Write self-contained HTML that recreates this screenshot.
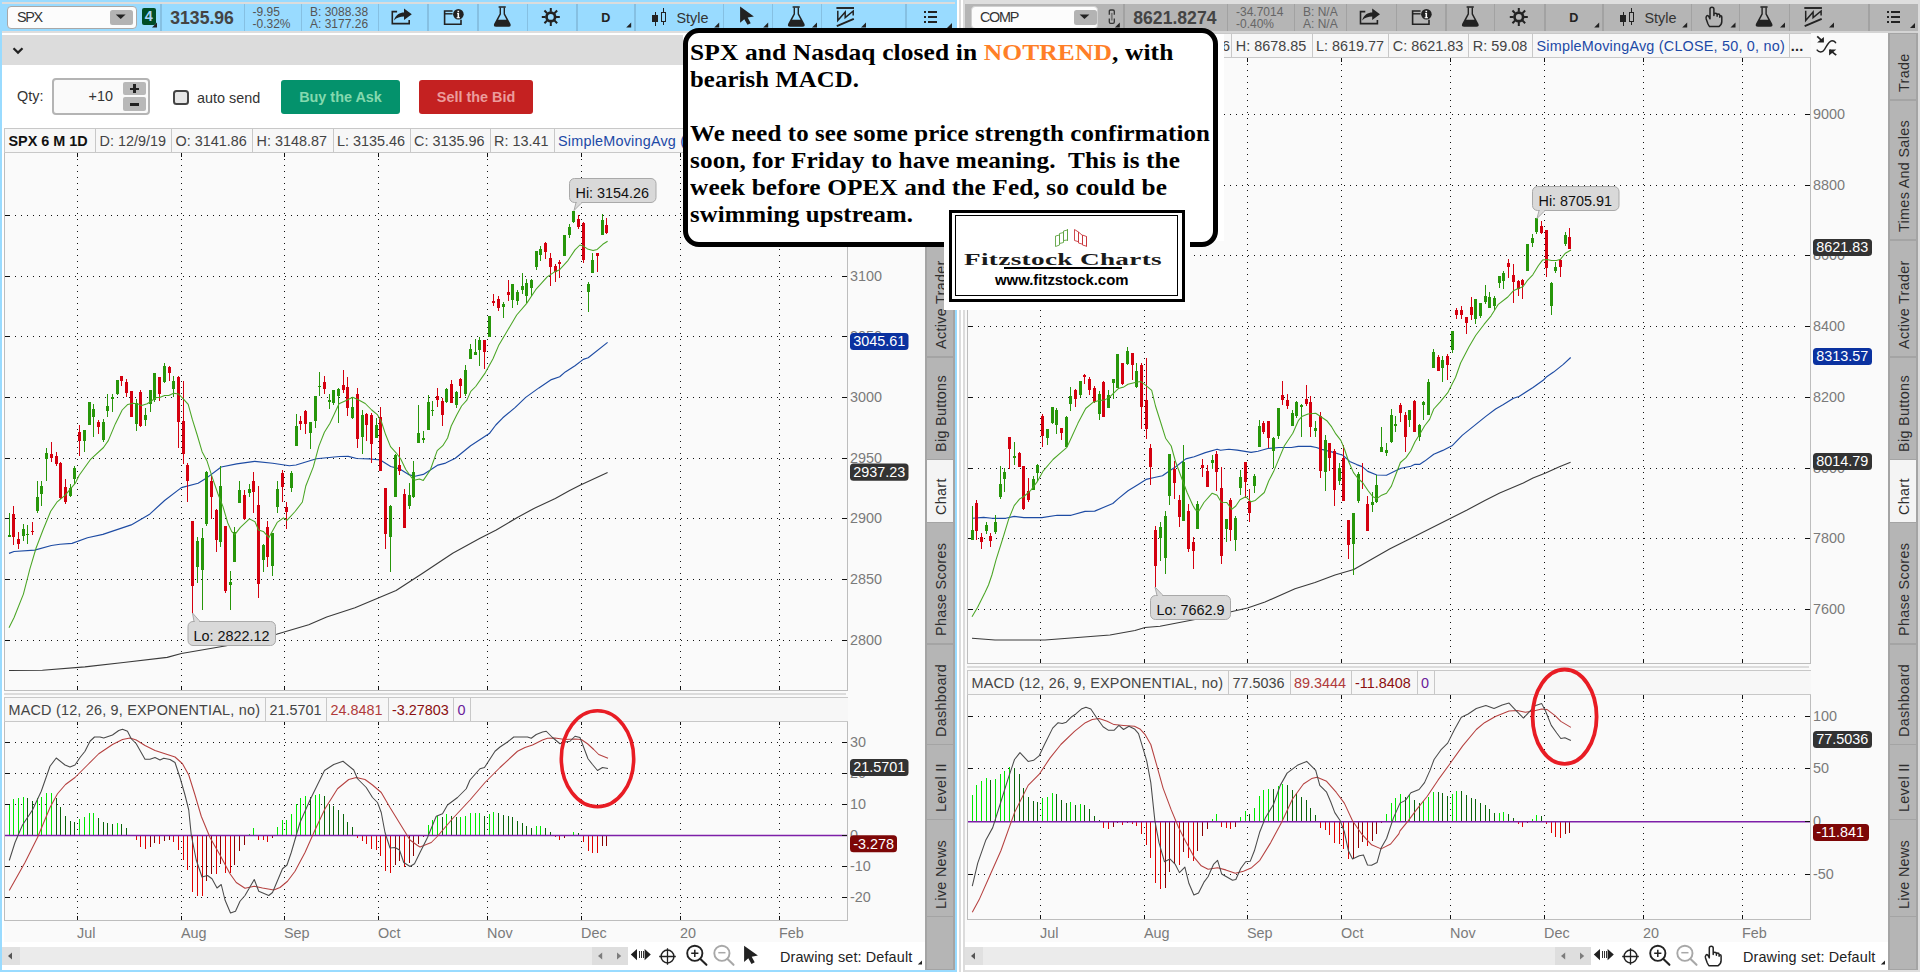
<!DOCTYPE html><html><head><meta charset="utf-8"><title>Charts</title><style>
html,body{margin:0;padding:0;background:#fff;}
body{width:1920px;height:972px;overflow:hidden;position:relative;font-family:"Liberation Sans", sans-serif;}
div{box-sizing:border-box;}
</style></head><body>
<div style="position:absolute;left:0px;top:0px;width:957px;height:972px;background:#99dbff;"></div>
<div style="position:absolute;left:2px;top:2px;width:953px;height:968px;background:#fff;"></div>
<div style="position:absolute;left:2px;top:2px;width:953px;height:2px;background:#dcdcdc;"></div>
<div style="position:absolute;left:2px;top:4px;width:953px;height:27px;background:#99dbff;"></div>
<div style="position:absolute;left:2px;top:31px;width:953px;height:2px;background:#dedede;"></div>
<div style="position:absolute;left:2px;top:35px;width:923px;height:30px;background:#dcdcdc;"></div>
<div style="position:absolute;left:4px;top:128px;width:921px;height:814px;background:#fafafa;"></div>
<div style="position:absolute;left:2px;top:947px;width:596px;height:18px;background:#ebebeb;"></div>
<div style="position:absolute;left:2px;top:947px;width:18px;height:18px;background:#e0e0e0;"></div>
<div style="position:absolute;left:592px;top:947px;width:36px;height:18px;background:#dedede;"></div>
<div style="position:absolute;left:957px;top:0px;width:963px;height:972px;background:#fff;"></div>
<div style="position:absolute;left:959px;top:0px;width:2px;height:972px;background:#dcdcdc;"></div>
<div style="position:absolute;left:963px;top:0px;width:2px;height:972px;background:#dcdcdc;"></div>
<div style="position:absolute;left:965px;top:0px;width:955px;height:4px;background:#dedede;"></div>
<div style="position:absolute;left:965px;top:4px;width:953px;height:27px;background:#b5b5b5;"></div>
<div style="position:absolute;left:965px;top:31px;width:953px;height:2px;background:#d4d4d4;"></div>
<div style="position:absolute;left:1918px;top:0px;width:2px;height:972px;background:#dcdcdc;"></div>
<div style="position:absolute;left:965px;top:970px;width:955px;height:2px;background:#dedede;"></div>
<div style="position:absolute;left:965px;top:33px;width:923px;height:909px;background:#fafafa;"></div>
<div style="position:absolute;left:965px;top:947px;width:596px;height:18px;background:#ebebeb;"></div>
<div style="position:absolute;left:965px;top:947px;width:18px;height:18px;background:#e0e0e0;"></div>
<div style="position:absolute;left:1555px;top:947px;width:36px;height:18px;background:#dedede;"></div>
<svg style="position:absolute;left:0;top:0" width="1920" height="972" viewBox="0 0 1920 972" font-family='"Liberation Sans", sans-serif' font-size="14.4"><path d="M4.5 152V690.5H847.5V152" stroke="#bdbdbd" stroke-width="1" fill="none" shape-rendering="crispEdges"/><path d="M4.5 721V920.5H847.5V721" stroke="#bdbdbd" stroke-width="1" fill="none" shape-rendering="crispEdges"/><path d="M967.5 57V663.5H1810.5V57" stroke="#bdbdbd" stroke-width="1" fill="none" shape-rendering="crispEdges"/><path d="M967.5 694V919.5H1810.5V694" stroke="#bdbdbd" stroke-width="1" fill="none" shape-rendering="crispEdges"/><path d="M15 215.5H834M15 276.5H834M15 336.5H834M15 397.5H834M15 458.5H834M15 518.5H834M15 579.5H834M15 640.5H834" stroke="#111" stroke-width="1" stroke-dasharray="1 5" fill="none" shape-rendering="crispEdges"/><path d="M77.5 159V685M181.5 159V685M284.5 159V685M378.5 159V685M487.5 159V685M581.5 159V685M680.5 159V685M779.5 159V685" stroke="#111" stroke-width="1" stroke-dasharray="1 5" fill="none" shape-rendering="crispEdges"/><path d="M5 215.5h5M842 215.5h5M5 276.5h5M842 276.5h5M5 336.5h5M842 336.5h5M5 397.5h5M842 397.5h5M5 458.5h5M842 458.5h5M5 518.5h5M842 518.5h5M5 579.5h5M842 579.5h5M5 640.5h5M842 640.5h5M77.5 153v4M77.5 686v4M181.5 153v4M181.5 686v4M284.5 153v4M284.5 686v4M378.5 153v4M378.5 686v4M487.5 153v4M487.5 686v4M581.5 153v4M581.5 686v4M680.5 153v4M680.5 686v4M779.5 153v4M779.5 686v4" stroke="#111" stroke-width="1" fill="none" shape-rendering="crispEdges"/><path d="M15 742.5H834M15 773.5H834M15 804.5H834M15 866.5H834M15 897.5H834" stroke="#111" stroke-width="1" stroke-dasharray="1 5" fill="none" shape-rendering="crispEdges"/><path d="M77.5 727V915M181.5 727V915M284.5 727V915M378.5 727V915M487.5 727V915M581.5 727V915M680.5 727V915M779.5 727V915" stroke="#111" stroke-width="1" stroke-dasharray="1 5" fill="none" shape-rendering="crispEdges"/><path d="M5 742.5h5M842 742.5h5M5 773.5h5M842 773.5h5M5 804.5h5M842 804.5h5M5 866.5h5M842 866.5h5M5 897.5h5M842 897.5h5M77.5 721v4M77.5 916v4M181.5 721v4M181.5 916v4M284.5 721v4M284.5 916v4M378.5 721v4M378.5 916v4M487.5 721v4M487.5 916v4M581.5 721v4M581.5 916v4M680.5 721v4M680.5 916v4M779.5 721v4M779.5 916v4" stroke="#111" stroke-width="1" fill="none" shape-rendering="crispEdges"/><path d="M978 114.5H1797M978 185.5H1797M978 255.5H1797M978 326.5H1797M978 397.5H1797M978 468.5H1797M978 538.5H1797M978 609.5H1797" stroke="#111" stroke-width="1" stroke-dasharray="1 5" fill="none" shape-rendering="crispEdges"/><path d="M1040.5 64V658M1144.5 64V658M1247.5 64V658M1341.5 64V658M1450.5 64V658M1544.5 64V658M1643.5 64V658M1742.5 64V658" stroke="#111" stroke-width="1" stroke-dasharray="1 5" fill="none" shape-rendering="crispEdges"/><path d="M968 114.5h5M1805 114.5h5M968 185.5h5M1805 185.5h5M968 255.5h5M1805 255.5h5M968 326.5h5M1805 326.5h5M968 397.5h5M1805 397.5h5M968 468.5h5M1805 468.5h5M968 538.5h5M1805 538.5h5M968 609.5h5M1805 609.5h5M1040.5 58v4M1040.5 659v4M1144.5 58v4M1144.5 659v4M1247.5 58v4M1247.5 659v4M1341.5 58v4M1341.5 659v4M1450.5 58v4M1450.5 659v4M1544.5 58v4M1544.5 659v4M1643.5 58v4M1643.5 659v4M1742.5 58v4M1742.5 659v4" stroke="#111" stroke-width="1" fill="none" shape-rendering="crispEdges"/><path d="M978 716.5H1797M978 768.5H1797M978 874.5H1797" stroke="#111" stroke-width="1" stroke-dasharray="1 5" fill="none" shape-rendering="crispEdges"/><path d="M1040.5 701V914M1144.5 701V914M1247.5 701V914M1341.5 701V914M1450.5 701V914M1544.5 701V914M1643.5 701V914M1742.5 701V914" stroke="#111" stroke-width="1" stroke-dasharray="1 5" fill="none" shape-rendering="crispEdges"/><path d="M968 716.5h5M1805 716.5h5M968 768.5h5M1805 768.5h5M968 874.5h5M1805 874.5h5M1040.5 695v4M1040.5 915v4M1144.5 695v4M1144.5 915v4M1247.5 695v4M1247.5 915v4M1341.5 695v4M1341.5 915v4M1450.5 695v4M1450.5 915v4M1544.5 695v4M1544.5 915v4M1643.5 695v4M1643.5 915v4M1742.5 695v4M1742.5 915v4" stroke="#111" stroke-width="1" fill="none" shape-rendering="crispEdges"/><polyline points="9,670.5 42.4,670.2 84.9,666.9 123.5,662.5 167.2,657.4 181.4,653.5 226.4,645.8 276.5,634.2 308.7,624.7 326.7,617 355,607.7 396.1,590.5 421.9,573.8 452.7,553.2 480,538.3 496.25,530 517.8,517.2 534.4,508.2 555.3,498.5 569.2,490.8 580,485.3 607.6,472.5" fill="none" stroke="#3a3a3a" stroke-width="1.12" stroke-linejoin="round" /><polyline points="9,553.4 14,551.5 34.7,550.1 51.4,545.5 60,544.2 72,543.4 87.5,537.7 102.9,534.4 131.2,524.9 149.2,514.6 164.6,500.5 181.4,487.6 198.1,483.2 205.8,478.6 221.2,467 236.7,463.9 254.7,461.4 272.7,463.2 289.4,465.7 296,465 316.4,458.8 339.5,456.5 348.3,456.4 356.7,458.5 369.2,458.9 380.3,460 390.7,466.5 399,468.6 409.4,474.9 415,476.25 423.3,474.4 430.3,470 437.9,465.1 445.6,463.1 455.3,458.2 470.6,445.7 489.3,433.6 495.8,425 502.8,417.8 515.3,407.4 525.7,397.4 538.9,387.9 551.4,379.6 559.7,376.8 565.3,371.9 575,365.7 583.3,359.4 588.2,357.8 607.6,342.4" fill="none" stroke="#1d4ba3" stroke-width="1.15" stroke-linejoin="round" /><polyline points="972,638.25 995,640 1045,640 1077.5,637.5 1110,635 1135,630.5 1145,627.5 1160,626.25 1195,619.5 1230,612 1247.5,608 1265,602 1295,588.75 1315,582.5 1335,575 1353.75,569.5 1372.5,558.75 1390,548.75 1407.5,540 1467.1,510 1484.4,500.7 1499.7,493 1523.3,483 1533,478 1545.6,472.9 1559.4,466.7 1570.6,462.2" fill="none" stroke="#3a3a3a" stroke-width="1.12" stroke-linejoin="round" /><polyline points="972.5,518.3 983.6,517.4 991.9,518.3 1005.8,518.3 1014.2,516.4 1023.9,517.6 1041.9,517.6 1057.2,515.3 1071.1,515.3 1085,511.4 1094.7,511.1 1112.8,503.5 1118.3,498.6 1128,490.7 1137.8,484.7 1146.1,479.4 1154.4,477.5 1162.5,475.7 1167.8,472 1176.1,466.5 1185.8,458.9 1194.2,456.8 1205.3,452.6 1217.1,449.2 1220.6,450.3 1228.9,449.2 1237.2,450.1 1251.1,452.4 1258,451.25 1267.8,448.5 1278.9,447.5 1291.4,447.5 1298.3,446.4 1310.8,446.4 1316.4,447.5 1321.9,449.4 1334.4,452.6 1342.8,455.2 1349.7,461.4 1356.7,464.6 1362.2,466.6 1367.8,471.4 1376.8,475 1386.5,475.3 1395.6,470.8 1401.1,468.3 1410.8,466.25 1415,464.3 1419.9,464.3 1424.7,461.1 1433.75,454.2 1442.8,450.4 1452.5,445.4 1462.2,435.4 1485.8,416.4 1495.6,409 1503,404.8 1513.5,398.2 1519,396.5 1533,387.5 1543.5,380 1546.7,376.7 1553.6,372.1 1563.3,364.4 1570.7,357.5" fill="none" stroke="#1d4ba3" stroke-width="1.15" stroke-linejoin="round" /><path d="M9 513h1v24h-1zM8 535h3v2h-3zM23 524h1v17h-1zM22 529h3v7h-3zM27 525h1v19h-1zM26 534h3v1h-3zM37 481h1v32h-1zM36 497h3v14h-3zM41 481h1v25h-1zM40 486h3v8h-3zM46 448h1v33h-1zM45 453h3v6h-3zM70 484h1v13h-1zM69 488h3v8h-3zM74 466h1v18h-1zM73 468h3v11h-3zM84 430h1v22h-1zM83 430h3v11h-3zM89 402h1v23h-1zM88 402h3v23h-3zM93 404h1v33h-1zM92 409h3v8h-3zM103 419h1v23h-1zM102 422h3v18h-3zM107 394h1v23h-1zM106 406h3v5h-3zM112 394h1v18h-1zM111 397h3v2h-3zM117 380h1v15h-1zM116 380h3v14h-3zM136 399h1v32h-1zM135 403h3v21h-3zM145 408h1v18h-1zM144 415h3v5h-3zM150 390h1v22h-1zM149 390h3v14h-3zM154 373h1v29h-1zM153 373h3v27h-3zM164 363h1v20h-1zM163 366h3v16h-3zM173 376h1v21h-1zM172 381h3v8h-3zM197 537h1v46h-1zM196 541h3v26h-3zM202 528h1v82h-1zM201 538h3v32h-3zM206 471h1v55h-1zM205 472h3v52h-3zM220 466h1v81h-1zM219 486h3v56h-3zM230 571h1v39h-1zM229 582h3v3h-3zM234 527h1v35h-1zM233 532h3v30h-3zM239 481h1v22h-1zM238 490h3v13h-3zM249 484h1v13h-1zM248 489h3v4h-3zM263 544h1v28h-1zM262 545h3v15h-3zM272 533h1v43h-1zM271 533h3v33h-3zM277 481h1v32h-1zM276 489h3v18h-3zM291 471h1v21h-1zM290 473h3v15h-3zM296 414h1v32h-1zM295 426h3v20h-3zM310 422h1v27h-1zM309 422h3v11h-3zM315 396h1v32h-1zM314 396h3v25h-3zM319 372h1v24h-1zM318 386h3v1h-3zM329 394h1v15h-1zM328 400h3v2h-3zM333 390h1v15h-1zM332 390h3v13h-3zM338 388h1v35h-1zM337 389h3v7h-3zM352 398h1v21h-1zM351 407h3v11h-3zM362 410h1v44h-1zM361 415h3v22h-3zM376 418h1v20h-1zM375 425h3v13h-3zM390 505h1v67h-1zM389 506h3v31h-3zM395 454h1v43h-1zM394 455h3v42h-3zM409 483h1v26h-1zM408 495h3v11h-3zM413 461h1v37h-1zM412 472h3v25h-3zM418 405h1v38h-1zM417 433h3v10h-3zM423 431h1v12h-1zM422 438h3v2h-3zM428 395h1v35h-1zM427 402h3v28h-3zM432 401h1v15h-1zM431 410h3v1h-3zM446 388h1v15h-1zM445 389h3v13h-3zM456 391h1v17h-1zM455 392h3v13h-3zM465 365h1v31h-1zM464 370h3v24h-3zM470 344h1v15h-1zM469 349h3v10h-3zM475 339h1v16h-1zM474 352h3v3h-3zM479 337h1v29h-1zM478 340h3v10h-3zM489 316h1v21h-1zM488 316h3v21h-3zM503 302h1v16h-1zM502 304h3v3h-3zM512 284h1v24h-1zM511 284h3v16h-3zM517 290h1v15h-1zM516 292h3v9h-3zM522 273h1v21h-1zM521 286h3v4h-3zM526 279h1v24h-1zM525 283h3v13h-3zM531 279h1v17h-1zM530 280h3v8h-3zM536 251h1v19h-1zM535 251h3v16h-3zM540 246h1v15h-1zM539 249h3v6h-3zM564 235h1v21h-1zM563 235h3v21h-3zM569 224h1v14h-1zM568 227h3v8h-3zM573 211h1v12h-1zM572 211h3v11h-3zM588 282h1v30h-1zM587 284h3v8h-3zM592 253h1v20h-1zM591 260h3v13h-3zM602 214h1v21h-1zM601 220h3v15h-3z" fill="#27960a" shape-rendering="crispEdges"/><path d="M13 506h1v39h-1zM12 514h3v23h-3zM18 532h1v17h-1zM17 539h3v5h-3zM32 522h1v13h-1zM31 531h3v1h-3zM51 442h1v20h-1zM50 454h3v4h-3zM56 452h1v14h-1zM55 456h3v8h-3zM60 462h1v37h-1zM59 463h3v35h-3zM65 479h1v25h-1zM64 487h3v15h-3zM79 425h1v31h-1zM78 432h3v9h-3zM98 420h1v14h-1zM97 422h3v5h-3zM121 376h1v10h-1zM120 376h3v5h-3zM126 379h1v18h-1zM125 382h3v11h-3zM131 391h1v26h-1zM130 391h3v26h-3zM140 390h1v37h-1zM139 392h3v34h-3zM159 377h1v24h-1zM158 377h3v17h-3zM169 366h1v15h-1zM168 367h3v6h-3zM178 376h1v72h-1zM177 377h3v45h-3zM183 381h1v83h-1zM182 421h3v33h-3zM187 463h1v39h-1zM186 465h3v16h-3zM192 521h1v93h-1zM191 521h3v65h-3zM211 476h1v43h-1zM210 481h3v16h-3zM216 509h1v43h-1zM215 510h3v30h-3zM225 526h1v67h-1zM224 526h3v65h-3zM244 490h1v30h-1zM243 495h3v24h-3zM253 472h1v41h-1zM252 481h3v11h-3zM258 486h1v112h-1zM257 505h3v79h-3zM267 521h1v46h-1zM266 527h3v30h-3zM282 470h1v32h-1zM281 473h3v14h-3zM286 502h1v27h-1zM285 507h3v5h-3zM300 416h1v14h-1zM299 421h3v3h-3zM305 410h1v24h-1zM304 411h3v13h-3zM324 376h1v18h-1zM323 382h3v7h-3zM343 370h1v23h-1zM342 385h3v5h-3zM347 377h1v39h-1zM346 387h3v21h-3zM357 388h1v60h-1zM356 394h3v45h-3zM366 413h1v28h-1zM365 414h3v11h-3zM371 413h1v50h-1zM370 415h3v29h-3zM380 407h1v64h-1zM379 417h3v54h-3zM385 488h1v61h-1zM384 488h3v46h-3zM399 447h1v28h-1zM398 465h3v6h-3zM404 489h1v39h-1zM403 494h3v34h-3zM437 388h1v19h-1zM436 396h3v4h-3zM442 398h1v28h-1zM441 401h3v14h-3zM451 380h1v23h-1zM450 384h3v19h-3zM460 378h1v20h-1zM459 379h3v7h-3zM484 340h1v29h-1zM483 340h3v12h-3zM493 294h1v12h-1zM492 301h3v2h-3zM498 296h1v15h-1zM497 299h3v9h-3zM508 280h1v21h-1zM507 292h3v3h-3zM545 242h1v17h-1zM544 243h3v9h-3zM550 253h1v33h-1zM549 258h3v9h-3zM555 264h1v18h-1zM554 266h3v6h-3zM559 260h1v18h-1zM558 262h3v2h-3zM578 215h1v14h-1zM577 219h3v8h-3zM583 222h1v41h-1zM582 223h3v37h-3zM597 253h1v19h-1zM596 253h3v3h-3zM606 218h1v16h-1zM605 225h3v8h-3z" fill="#d4000f" shape-rendering="crispEdges"/><path d="M972 506h1v34h-1zM971 530h3v10h-3zM986 522h1v12h-1zM985 525h3v6h-3zM995 515h1v19h-1zM994 522h3v10h-3zM1000 466h1v33h-1zM999 484h3v13h-3zM1004 468h1v24h-1zM1003 472h3v7h-3zM1014 442h1v23h-1zM1013 456h3v2h-3zM1033 476h1v14h-1zM1032 479h3v11h-3zM1037 464h1v17h-1zM1036 465h3v8h-3zM1047 429h1v16h-1zM1046 429h3v9h-3zM1052 407h1v17h-1zM1051 407h3v16h-3zM1056 408h1v26h-1zM1055 410h3v15h-3zM1066 416h1v31h-1zM1065 417h3v30h-3zM1070 387h1v24h-1zM1069 396h3v8h-3zM1080 381h1v16h-1zM1079 381h3v14h-3zM1099 391h1v29h-1zM1098 394h3v20h-3zM1108 390h1v18h-1zM1107 395h3v13h-3zM1113 379h1v20h-1zM1112 379h3v4h-3zM1117 354h1v34h-1zM1116 354h3v34h-3zM1127 347h1v18h-1zM1126 351h3v13h-3zM1136 363h1v25h-1zM1135 371h3v16h-3zM1160 522h1v39h-1zM1159 527h3v11h-3zM1165 511h1v63h-1zM1164 516h3v42h-3zM1169 454h1v51h-1zM1168 454h3v42h-3zM1183 445h1v76h-1zM1182 462h3v59h-3zM1197 501h1v28h-1zM1196 504h3v25h-3zM1212 455h1v14h-1zM1211 460h3v3h-3zM1226 519h1v23h-1zM1225 519h3v10h-3zM1235 516h1v35h-1zM1234 518h3v22h-3zM1240 470h1v25h-1zM1239 477h3v11h-3zM1254 474h1v19h-1zM1253 476h3v10h-3zM1259 420h1v27h-1zM1258 426h3v21h-3zM1273 437h1v31h-1zM1272 438h3v13h-3zM1278 408h1v31h-1zM1277 408h3v28h-3zM1292 410h1v16h-1zM1291 413h3v13h-3zM1296 401h1v17h-1zM1295 402h3v14h-3zM1301 404h1v33h-1zM1300 405h3v2h-3zM1315 421h1v16h-1zM1314 428h3v3h-3zM1325 435h1v56h-1zM1324 440h3v32h-3zM1339 463h1v22h-1zM1338 468h3v13h-3zM1353 513h1v62h-1zM1352 513h3v31h-3zM1358 472h1v31h-1zM1357 474h3v27h-3zM1372 492h1v20h-1zM1371 502h3v3h-3zM1376 475h1v28h-1zM1375 485h3v17h-3zM1381 427h1v25h-1zM1380 447h3v5h-3zM1386 443h1v13h-1zM1385 450h3v3h-3zM1391 409h1v34h-1zM1390 415h3v27h-3zM1395 416h1v16h-1zM1394 424h3v2h-3zM1409 410h1v17h-1zM1408 410h3v10h-3zM1419 424h1v17h-1zM1418 425h3v12h-3zM1423 401h1v19h-1zM1422 402h3v3h-3zM1428 379h1v36h-1zM1427 382h3v33h-3zM1433 349h1v19h-1zM1432 352h3v16h-3zM1442 356h1v26h-1zM1441 360h3v8h-3zM1452 331h1v22h-1zM1451 331h3v19h-3zM1475 299h1v25h-1zM1474 299h3v20h-3zM1480 303h1v15h-1zM1479 303h3v13h-3zM1485 285h1v19h-1zM1484 296h3v6h-3zM1489 292h1v16h-1zM1488 297h3v11h-3zM1494 296h1v14h-1zM1493 298h3v8h-3zM1499 276h1v12h-1zM1498 276h3v7h-3zM1503 271h1v18h-1zM1502 273h3v8h-3zM1527 244h1v27h-1zM1526 244h3v27h-3zM1532 234h1v13h-1zM1531 238h3v5h-3zM1536 218h1v16h-1zM1535 218h3v14h-3zM1551 282h1v33h-1zM1550 283h3v23h-3zM1555 262h1v11h-1zM1554 267h3v4h-3zM1565 232h1v14h-1zM1564 235h3v9h-3z" fill="#27960a" shape-rendering="crispEdges"/><path d="M976 500h1v40h-1zM975 503h3v28h-3zM981 533h1v16h-1zM980 537h3v5h-3zM990 533h1v14h-1zM989 536h3v5h-3zM1009 437h1v32h-1zM1008 437h3v12h-3zM1019 452h1v15h-1zM1018 453h3v14h-3zM1023 466h1v44h-1zM1022 466h3v43h-3zM1028 478h1v24h-1zM1027 491h3v9h-3zM1042 414h1v33h-1zM1041 416h3v20h-3zM1061 428h1v12h-1zM1060 428h3v5h-3zM1075 389h1v18h-1zM1074 390h3v9h-3zM1084 374h1v10h-1zM1083 375h3v2h-3zM1089 377h1v18h-1zM1088 379h3v11h-3zM1094 386h1v17h-1zM1093 388h3v14h-3zM1103 381h1v36h-1zM1102 382h3v35h-3zM1122 363h1v22h-1zM1121 363h3v21h-3zM1132 353h1v27h-1zM1131 353h3v12h-3zM1141 363h1v66h-1zM1140 365h3v42h-3zM1146 358h1v81h-1zM1145 400h3v29h-3zM1150 444h1v41h-1zM1149 448h3v19h-3zM1155 526h1v61h-1zM1154 530h3v36h-3zM1174 461h1v38h-1zM1173 469h3v14h-3zM1179 495h1v32h-1zM1178 500h3v17h-3zM1188 504h1v48h-1zM1187 511h3v38h-3zM1193 537h1v32h-1zM1192 542h3v9h-3zM1202 459h1v18h-1zM1201 465h3v3h-3zM1207 465h1v22h-1zM1206 471h3v16h-3zM1216 451h1v40h-1zM1215 454h3v18h-3zM1221 467h1v97h-1zM1220 488h3v68h-3zM1230 498h1v43h-1zM1229 500h3v30h-3zM1245 462h1v36h-1zM1244 462h3v20h-3zM1249 489h1v33h-1zM1248 501h3v12h-3zM1263 421h1v13h-1zM1262 423h3v9h-3zM1268 421h1v27h-1zM1267 421h3v17h-3zM1282 381h1v24h-1zM1281 395h3v5h-3zM1287 394h1v15h-1zM1286 400h3v6h-3zM1306 385h1v21h-1zM1305 399h3v5h-3zM1310 396h1v41h-1zM1309 402h3v25h-3zM1320 412h1v66h-1zM1319 416h3v55h-3zM1329 443h1v28h-1zM1328 443h3v15h-3zM1334 449h1v57h-1zM1333 451h3v39h-3zM1343 445h1v56h-1zM1342 458h3v43h-3zM1348 520h1v39h-1zM1347 520h3v25h-3zM1362 463h1v26h-1zM1367 496h1v35h-1zM1366 504h3v27h-3zM1400 403h1v19h-1zM1399 405h3v8h-3zM1405 412h1v40h-1zM1404 415h3v22h-3zM1414 400h1v32h-1zM1413 401h3v31h-3zM1438 355h1v16h-1zM1437 357h3v14h-3zM1447 354h1v26h-1zM1446 356h3v9h-3zM1456 308h1v11h-1zM1455 310h3v5h-3zM1461 306h1v13h-1zM1460 310h3v5h-3zM1466 317h1v17h-1zM1465 317h3v6h-3zM1471 297h1v23h-1zM1470 307h3v8h-3zM1508 259h1v19h-1zM1507 263h3v4h-3zM1513 264h1v39h-1zM1512 275h3v7h-3zM1518 280h1v16h-1zM1517 281h3v8h-3zM1522 279h1v20h-1zM1521 280h3v5h-3zM1541 221h1v13h-1zM1540 226h3v7h-3zM1546 230h1v47h-1zM1545 230h3v38h-3zM1560 259h1v18h-1zM1559 260h3v7h-3zM1569 228h1v21h-1zM1568 237h3v12h-3z" fill="#d4000f" shape-rendering="crispEdges"/><polyline points="9,627.8 14.1,617.5 23.4,594.1 29.9,568.9 36.1,548 43,530 50.7,511.3 56.9,502.2 65.3,495.2 75.3,483.2 79.2,475.3 90.3,459.7 103.5,447.5 108.3,440.6 115.3,423.9 122.2,410 127.8,404.4 133.3,403.3 138.9,404.2 141.7,405.6 147.2,403.75 151.4,401 156.3,397.5 159.7,397.5 164.6,395.4 168.75,395.4 173.6,393.3 178.5,394 183.3,398.9 188.2,404.4 192.4,419.7 197.2,435 202.1,451.7 206.9,460.7 212.5,478.1 218,494 222.9,506.4 227.8,523 231.6,531.4 234.8,534.6 240.4,527.4 249.4,518.9 255,521.7 258.5,530 263.3,531.4 268.9,537.6 277.2,522.4 283.5,517.8 286.9,520.3 295.3,511.25 302.4,502 305.7,486.3 313.3,466.9 318.9,446.1 324.4,432.2 330,423.2 334.2,414.2 339,403.75 346.7,400.3 352.7,397.3 359.2,400.3 365.2,403.5 371.7,410 377.3,414.6 381.5,422 385.7,434.8 390.5,446.6 396.1,452.8 400.6,458.7 405.8,469.5 411.7,477.8 415.2,480.1 419.5,479.1 423.3,480.4 430.3,470 437.2,450.6 442.8,445.7 447.6,438 451.2,426 456.7,415.1 461.6,406 466.9,400.1 470.8,391.4 475.7,386.5 485.4,372.6 493,358.75 498.6,345.6 505.6,333.75 516.7,315 526.7,303.4 535.7,289.7 547.2,276.9 554.2,272.1 559.7,269.7 568.1,260.3 575,249.9 579.9,245 583.3,246.1 587.5,248.9 593.1,250.6 597.2,249.4 602.8,244.3 607.6,241.25" fill="none" stroke="#4aa524" stroke-width="1.05" stroke-linejoin="round" /><polyline points="972,616.75 977.5,607.5 985,592.5 988.5,585 991.9,575 996.1,559.7 1003.1,537.5 1008.6,519.4 1014.2,505.6 1019.7,498.9 1023.9,496.5 1030.8,490.3 1037.1,481.9 1043.3,470.8 1053,459.5 1061.4,452.2 1066.9,447.4 1071.1,438.3 1078,423.1 1085.7,408.5 1093.3,402.2 1098.9,400.6 1104.4,400.1 1109.3,397.4 1118.3,388.6 1123.9,386.9 1128,384.2 1135,382.5 1140.6,381.4 1146.1,385.6 1151.7,390.4 1155.5,406 1160.4,421.5 1165.6,438.2 1171.2,446 1175.5,461.5 1181.7,478.2 1187.2,492.8 1192.8,505.3 1195.6,510.1 1199,510.8 1203.9,502.5 1212.2,493.2 1217.1,495.3 1221.25,502.2 1226.8,502.5 1231.7,509.4 1235.8,506 1240,499.7 1245.6,496.7 1251.1,501.8 1255.3,500.4 1264.3,492.5 1268.7,481 1273.6,471.6 1278.9,458.9 1284.4,445.7 1292.8,433.2 1298.3,420.7 1301.8,416.5 1308,414 1315.7,413.3 1320.6,416.5 1326.8,420.7 1331.7,426.9 1335.8,433.9 1341,440.6 1344.6,449.5 1348.8,462 1353.5,472.6 1358,478.5 1362.6,482.5 1367.8,490.2 1372.6,496.5 1376.8,498.6 1381,495.6 1386.5,493.3 1391.4,486.1 1395.6,475 1400.4,462.5 1406,457.6 1410.8,450.7 1415,441.7 1419.9,434 1424.7,425.7 1429.6,419.4 1433.75,409 1440,402.1 1447.8,392.7 1452.5,383.3 1455.5,377.5 1460.6,363 1468.9,347.1 1475.8,335.3 1484.2,324.2 1491.1,315.8 1498,304.7 1507.8,297 1513.3,290.8 1518.9,288.2 1523,286.8 1527.2,280.7 1532.8,274.8 1538.3,265.7 1542.5,260.1 1546.7,259.4 1551.5,260.4 1556.4,260.4 1560.6,259.2 1565.4,253.2 1571,250" fill="none" stroke="#4aa524" stroke-width="1.05" stroke-linejoin="round" /><path d="M9 805h1v30h-1zM13 799h1v36h-1zM18 798h1v37h-1zM23 797h1v38h-1zM37 798h1v37h-1zM41 797h1v38h-1zM46 793h1v42h-1zM51 793h1v42h-1zM79 819h1v16h-1zM84 817h1v18h-1zM89 813h1v22h-1zM93 813h1v22h-1zM117 823h1v12h-1zM249 834h1v1h-1zM253 828h1v7h-1zM277 827h1v8h-1zM282 820h1v15h-1zM286 820h1v15h-1zM291 814h1v21h-1zM296 804h1v31h-1zM300 798h1v37h-1zM305 796h1v39h-1zM315 795h1v40h-1zM319 794h1v41h-1zM428 825h1v10h-1zM432 820h1v15h-1zM437 816h1v19h-1zM446 814h1v21h-1zM460 817h1v18h-1zM465 816h1v19h-1zM470 813h1v22h-1zM475 813h1v22h-1zM479 813h1v22h-1zM489 814h1v21h-1zM493 812h1v23h-1zM536 826h1v9h-1zM540 826h1v9h-1zM573 832h1v3h-1z" fill="#00e800" shape-rendering="crispEdges"/><path d="M27 798h1v37h-1zM32 801h1v34h-1zM56 798h1v37h-1zM60 807h1v28h-1zM65 816h1v19h-1zM70 821h1v14h-1zM74 822h1v13h-1zM98 818h1v17h-1zM103 822h1v13h-1zM107 823h1v12h-1zM112 824h1v11h-1zM121 824h1v11h-1zM126 828h1v7h-1zM310 797h1v38h-1zM324 796h1v39h-1zM329 804h1v31h-1zM333 806h1v29h-1zM338 810h1v25h-1zM343 814h1v21h-1zM347 822h1v13h-1zM352 827h1v8h-1zM442 817h1v18h-1zM451 816h1v19h-1zM456 817h1v18h-1zM484 816h1v19h-1zM498 813h1v22h-1zM503 815h1v20h-1zM508 816h1v19h-1zM512 817h1v18h-1zM517 821h1v14h-1zM522 823h1v12h-1zM526 826h1v9h-1zM531 828h1v7h-1zM545 828h1v7h-1zM550 832h1v3h-1zM578 833h1v2h-1z" fill="#0a640a" shape-rendering="crispEdges"/><path d="M136 836h1v4h-1zM140 836h1v11h-1zM145 836h1v13h-1zM159 836h1v8h-1zM173 836h1v6h-1zM178 836h1v14h-1zM183 836h1v24h-1zM187 836h1v34h-1zM192 836h1v56h-1zM197 836h1v60h-1zM202 836h1v60h-1zM216 836h1v38h-1zM225 836h1v37h-1zM230 836h1v37h-1zM258 836h1v4h-1zM263 836h1v4h-1zM267 836h1v6h-1zM357 836h1v2h-1zM362 836h1v5h-1zM366 836h1v8h-1zM371 836h1v13h-1zM376 836h1v14h-1zM380 836h1v20h-1zM385 836h1v35h-1zM390 836h1v37h-1zM404 836h1v31h-1zM555 836h1v1h-1zM559 836h1v4h-1zM583 836h1v6h-1zM588 836h1v15h-1zM592 836h1v17h-1zM597 836h1v17h-1z" fill="#e00000" shape-rendering="crispEdges"/><path d="M150 836h1v11h-1zM154 836h1v7h-1zM164 836h1v5h-1zM169 836h1v4h-1zM206 836h1v45h-1zM211 836h1v38h-1zM220 836h1v28h-1zM234 836h1v29h-1zM239 836h1v15h-1zM244 836h1v9h-1zM272 836h1v2h-1zM395 836h1v29h-1zM399 836h1v25h-1zM409 836h1v27h-1zM413 836h1v20h-1zM418 836h1v8h-1zM423 836h1v1h-1zM564 836h1v2h-1zM602 836h1v10h-1zM606 836h1v10h-1z" fill="#8c0000" shape-rendering="crispEdges"/><path d="M972 795h1v26h-1zM976 785h1v36h-1zM981 781h1v40h-1zM986 778h1v43h-1zM995 779h1v42h-1zM1000 774h1v47h-1zM1004 771h1v50h-1zM1009 767h1v54h-1zM1042 798h1v23h-1zM1047 797h1v24h-1zM1052 793h1v28h-1zM1070 802h1v19h-1zM1080 804h1v17h-1zM1212 819h1v2h-1zM1216 814h1v7h-1zM1240 817h1v4h-1zM1245 811h1v10h-1zM1254 808h1v13h-1zM1259 796h1v25h-1zM1263 790h1v31h-1zM1268 789h1v32h-1zM1278 786h1v35h-1zM1282 784h1v37h-1zM1386 814h1v7h-1zM1391 803h1v18h-1zM1395 798h1v23h-1zM1400 794h1v27h-1zM1409 795h1v26h-1zM1423 801h1v20h-1zM1428 797h1v24h-1zM1433 792h1v29h-1zM1452 794h1v27h-1zM1456 791h1v30h-1zM1499 813h1v8h-1zM1503 812h1v9h-1zM1532 819h1v2h-1zM1536 815h1v6h-1z" fill="#00e800" shape-rendering="crispEdges"/><path d="M990 780h1v41h-1zM1014 768h1v53h-1zM1019 774h1v47h-1zM1023 788h1v33h-1zM1028 797h1v24h-1zM1033 801h1v20h-1zM1037 802h1v19h-1zM1056 794h1v27h-1zM1061 800h1v21h-1zM1066 803h1v18h-1zM1075 805h1v16h-1zM1084 805h1v16h-1zM1089 809h1v12h-1zM1094 816h1v5h-1zM1099 820h1v1h-1zM1249 814h1v7h-1zM1273 789h1v32h-1zM1287 785h1v36h-1zM1292 790h1v31h-1zM1296 793h1v28h-1zM1301 797h1v24h-1zM1306 800h1v21h-1zM1310 808h1v13h-1zM1315 815h1v6h-1zM1405 797h1v24h-1zM1414 800h1v21h-1zM1419 803h1v18h-1zM1438 792h1v29h-1zM1442 793h1v28h-1zM1447 796h1v25h-1zM1461 791h1v30h-1zM1466 795h1v26h-1zM1471 798h1v23h-1zM1475 799h1v22h-1zM1480 803h1v18h-1zM1485 805h1v16h-1zM1489 809h1v12h-1zM1494 813h1v8h-1zM1508 814h1v7h-1zM1513 818h1v3h-1zM1541 816h1v5h-1z" fill="#0a640a" shape-rendering="crispEdges"/><path d="M1103 822h1v6h-1zM1108 822h1v7h-1zM1122 822h1v3h-1zM1132 822h1v2h-1zM1136 822h1v4h-1zM1141 822h1v12h-1zM1146 822h1v23h-1zM1150 822h1v36h-1zM1155 822h1v61h-1zM1160 822h1v67h-1zM1179 822h1v43h-1zM1188 822h1v36h-1zM1193 822h1v39h-1zM1221 822h1v5h-1zM1226 822h1v6h-1zM1230 822h1v7h-1zM1320 822h1v6h-1zM1325 822h1v8h-1zM1329 822h1v13h-1zM1334 822h1v21h-1zM1339 822h1v22h-1zM1343 822h1v27h-1zM1348 822h1v37h-1zM1367 822h1v24h-1zM1518 822h1v2h-1zM1522 822h1v5h-1zM1546 822h1v2h-1zM1551 822h1v11h-1zM1555 822h1v15h-1zM1560 822h1v16h-1z" fill="#e00000" shape-rendering="crispEdges"/><path d="M1113 822h1v5h-1zM1117 822h1v1h-1zM1127 822h1v1h-1zM1165 822h1v66h-1zM1169 822h1v50h-1zM1174 822h1v42h-1zM1183 822h1v30h-1zM1197 822h1v29h-1zM1202 822h1v14h-1zM1207 822h1v7h-1zM1235 822h1v5h-1zM1353 822h1v36h-1zM1358 822h1v26h-1zM1362 822h1v20h-1zM1372 822h1v19h-1zM1376 822h1v12h-1zM1381 822h1v1h-1zM1527 822h1v1h-1zM1565 822h1v12h-1zM1569 822h1v11h-1z" fill="#8c0000" shape-rendering="crispEdges"/><path d="M5 835.5H847" stroke="#7d1fa8" stroke-width="1.4" fill="none"/><path d="M968 821.8H1810" stroke="#7d1fa8" stroke-width="1.4" fill="none"/><polyline points="9.25,890.5 25,862.5 37.5,837.5 50,807.5 57.5,793.75 65.5,784.5 75,777.5 87.5,765 98.75,753.75 112.5,744.5 122.5,739.5 130,738 136.25,740 145,745.5 155,750.5 165,753.75 175,757 182.5,763.75 188.75,775 195,795 201.25,816.25 210,837.5 220,855 230,873.75 236.25,882.5 245,888.25 254.25,886.25 262.5,888 273.75,890 280,887.5 287.5,881.25 295,871.25 305,852.5 315,830 325,808.75 337.5,788.75 348.75,779.5 356.25,777.5 365,779.5 372.5,785 381.25,792.5 390,807.5 400,823.75 410,840 417.5,845.5 420,847 431.25,842.5 437.5,836.25 452.5,818.75 470,800 485,782.5 500,767.5 517.5,751.25 525,747.5 532.5,745 542.5,740 547.5,738.25 555,738 565,739.5 575,739 581.25,739.5 587.5,743.75 593.75,749.5 598.75,754.5 608,758.25" fill="none" stroke="#b5403f" stroke-width="1.05" stroke-linejoin="round" /><polyline points="9.25,860.5 15,842.5 22.5,825 32.5,810 41.25,791.25 50,766.25 56.25,758 65,765 70,767 75,765 80,757.5 85,751.25 90,741.25 94.5,737 100,737 103.75,738 112.5,735 118.75,730.5 122.5,729.25 127.5,731.25 131.25,738.75 136.25,743.75 145,759.25 150,759.25 155,757.5 160,760 163.75,758.25 170,759.5 175,762.5 180,777.5 185,795 188.75,810 191.25,835 196.25,860 202,877 207.5,875.5 212,878.75 217,888 221.25,884.5 225,900 230.5,913 235.5,911.25 240,901.25 245,895.5 254.25,879.5 258.75,891.25 268.75,895.5 272.5,892.5 282.5,868.75 287,865 291.25,852.5 300,822.5 310,800 324.5,770.5 333.75,764.5 343,761.25 353.75,770 357.5,778.75 366.25,787.5 372.5,797.5 377.5,802.5 381.25,812.5 385,832.5 390,848 395,847.5 399.5,850 403.75,862.5 410,866.5 414.5,863.75 420,852.5 420,852.5 427.5,837.5 436.25,816.25 442.5,813.75 447.5,805 457.5,797.5 466.25,788.75 470,780 480,768.75 484.5,767.5 495,751.25 500,747 507.5,742 513.75,737 527.5,737 531.25,738.25 536.25,734.5 542.5,732 546.25,731.25 552.5,737.5 560,743.75 565,742 570,741.25 575,736.25 580,737.5 583.75,747.5 588,758.75 592.5,764.5 597.5,770.5 602.5,767.5 608,768.5" fill="none" stroke="#4a4a4a" stroke-width="1.05" stroke-linejoin="round" /><polyline points="972.27,912.13 979.08,899.86 989.98,875.33 1000.89,850.8 1014.51,812.64 1028.14,785.38 1039.05,774.48 1049.95,758.13 1060.85,744.5 1074.48,731.41 1085.38,722.69 1092.2,719.42 1099.01,718.6 1107.19,721.33 1114,724.6 1123.54,725.42 1134.45,726.24 1139.9,728.96 1145.35,734.96 1150.8,744.5 1156.25,763.58 1163.07,788.11 1171.24,809.91 1178.06,826.27 1186.24,842.62 1194.41,857.61 1201.23,865.79 1208.04,869.34 1217.58,867.7 1225.76,869.88 1235.3,873.15 1243.48,871.24 1251.65,867.7 1259.83,860.34 1270.73,842.62 1281.64,822.18 1292.54,799.01 1303.44,784.02 1311.62,778.57 1317.07,777.21 1326.61,781.29 1336.15,792.2 1344.33,803.1 1352.5,820.82 1362.04,834.45 1371.58,844.8 1381.12,848.89 1390.66,843.99 1398.84,833.9 1400,830.9 1408.18,820.82 1416.35,809.91 1427.26,796.29 1438.16,779.93 1449.06,764.94 1462.69,745.86 1476.32,729.51 1484.5,722.69 1495.4,716.42 1509.03,710.97 1517.21,710.43 1525.38,712.33 1533.56,710.97 1541.74,709.06 1547.19,709.61 1555.37,715.88 1560.82,721.33 1570.9,727.33" fill="none" stroke="#b5403f" stroke-width="1.05" stroke-linejoin="round" /><polyline points="972.27,886.24 977.72,863.07 985.89,839.9 992.71,827.63 1000.89,801.74 1007.7,779.93 1014.51,759.49 1019.97,752.67 1028.14,761.4 1033.59,760.31 1039.05,755.95 1044.5,744.5 1052.67,728.14 1058.13,722.69 1062.21,723.51 1066.3,722.15 1071.75,716.7 1075.84,713.97 1081.29,709.06 1085.93,707.16 1090.83,709.06 1096.29,717.24 1103.1,726.78 1108.55,730.32 1114,730.32 1118.91,725.42 1123.54,729.51 1128.99,726.24 1134.45,728.96 1138.53,733.59 1142.62,747.22 1146.71,760.85 1150.8,782.66 1154.89,820.82 1158.98,842.62 1164.43,861.7 1169.88,858.98 1175.33,864.43 1179.42,872.61 1184.87,867.16 1188.96,883.51 1193.87,894.96 1198.5,893.05 1203.95,882.15 1208.04,876.7 1213.49,864.43 1217.58,860.34 1221.67,873.97 1232.57,880.24 1235.84,879.42 1240.75,868.52 1245.66,861.7 1250.29,861.16 1254.38,850.8 1259.83,831.72 1265.28,818.09 1273.46,804.46 1280.27,785.38 1287.09,773.12 1297.99,764.94 1306.71,761.4 1315.71,770.39 1319.8,785.38 1326.61,792.2 1330.7,801.74 1334.79,812.64 1340.24,820.82 1344.33,831.72 1348.42,850.8 1352.5,858.98 1359.32,855.71 1363.41,854.89 1367.5,864.97 1371.58,865.25 1377.04,862.52 1381.12,848.07 1386.58,838.53 1393.39,818.09 1400,803.1 1405.45,800.37 1410.9,792.74 1419.08,789.47 1424.53,782.66 1429.98,770.39 1434.07,759.49 1440.89,749.95 1447.7,743.13 1454.51,729.51 1461.33,717.24 1468.14,713.97 1476.32,708.52 1485.86,705.52 1494.04,708.52 1502.21,704.97 1509.03,703.07 1515.84,710.43 1523.48,718.06 1528.11,713.15 1534.92,705.79 1541.74,703.61 1545.83,711.79 1551.28,725.42 1556.73,733.05 1560.82,738.5 1564.91,737.68 1570.9,740.41" fill="none" stroke="#4a4a4a" stroke-width="1.05" stroke-linejoin="round" /><path d="M576 202.5 L574 210.5 L582 202.5" fill="#d9d9d9" stroke="#a9a9a9" stroke-width="1"/><rect x="569.5" y="178.5" width="86.5" height="24" rx="5" ry="5" fill="#d9d9d9" stroke="#a9a9a9" stroke-width="1"/><path d="M576.8 202.5 L581.2 202.5" stroke="#d9d9d9" stroke-width="2"/><path d="M194 621.5 L192.5 613 L200 621.5" fill="#d9d9d9" stroke="#a9a9a9" stroke-width="1"/><rect x="188" y="621.5" width="87.5" height="24" rx="5" ry="5" fill="#d9d9d9" stroke="#a9a9a9" stroke-width="1"/><path d="M194.8 621.5 L199.2 621.5" stroke="#d9d9d9" stroke-width="2"/><path d="M1539 210.5 L1537 218.5 L1545 210.5" fill="#d9d9d9" stroke="#a9a9a9" stroke-width="1"/><rect x="1532.5" y="186.5" width="86.5" height="24" rx="5" ry="5" fill="#d9d9d9" stroke="#a9a9a9" stroke-width="1"/><path d="M1539.8 210.5 L1544.2 210.5" stroke="#d9d9d9" stroke-width="2"/><path d="M1157 595.5 L1155 587 L1163 595.5" fill="#d9d9d9" stroke="#a9a9a9" stroke-width="1"/><rect x="1150.5" y="595.5" width="80" height="24" rx="5" ry="5" fill="#d9d9d9" stroke="#a9a9a9" stroke-width="1"/><path d="M1157.8 595.5 L1162.2 595.5" stroke="#d9d9d9" stroke-width="2"/><text x="575.5" y="197.9" fill="#111">Hi: 3154.26</text><text x="193.5" y="641.2" fill="#111">Lo: 2822.12</text><text x="1538.5" y="205.9" fill="#111">Hi: 8705.91</text><text x="1156.5" y="615.2" fill="#111">Lo: 7662.9</text><text x="850" y="280.9" fill="#7a7a7a">3100</text><text x="850" y="401.9" fill="#7a7a7a">3000</text><text x="850" y="462.9" fill="#7a7a7a">2950</text><text x="850" y="522.9" fill="#7a7a7a">2900</text><text x="850" y="583.9" fill="#7a7a7a">2850</text><text x="850" y="644.9" fill="#7a7a7a">2800</text><text x="850" y="219.9" fill="#7a7a7a">3150</text><text x="850" y="340.9" fill="#7a7a7a">3050</text><text x="850" y="746.9" fill="#7a7a7a">30</text><text x="850" y="777.9" fill="#7a7a7a">20</text><text x="850" y="808.9" fill="#7a7a7a">10</text><text x="850" y="839.9" fill="#7a7a7a">0</text><text x="850" y="870.9" fill="#7a7a7a">-10</text><text x="850" y="901.9" fill="#7a7a7a">-20</text><text x="1813" y="118.9" fill="#7a7a7a">9000</text><text x="1813" y="189.9" fill="#7a7a7a">8800</text><text x="1813" y="259.9" fill="#7a7a7a">8600</text><text x="1813" y="330.9" fill="#7a7a7a">8400</text><text x="1813" y="401.9" fill="#7a7a7a">8200</text><text x="1813" y="472.9" fill="#7a7a7a">8000</text><text x="1813" y="542.9" fill="#7a7a7a">7800</text><text x="1813" y="613.9" fill="#7a7a7a">7600</text><text x="1813" y="720.9" fill="#7a7a7a">100</text><text x="1813" y="772.9" fill="#7a7a7a">50</text><text x="1813" y="825.9" fill="#7a7a7a">0</text><text x="1813" y="878.9" fill="#7a7a7a">-50</text><path d="M842 835.5h5M1805 821.5h5" stroke="#111" stroke-width="1" shape-rendering="crispEdges"/><text x="77" y="938" fill="#7a7a7a">Jul</text><text x="1040" y="938" fill="#7a7a7a">Jul</text><text x="181" y="938" fill="#7a7a7a">Aug</text><text x="1144" y="938" fill="#7a7a7a">Aug</text><text x="284" y="938" fill="#7a7a7a">Sep</text><text x="1247" y="938" fill="#7a7a7a">Sep</text><text x="378" y="938" fill="#7a7a7a">Oct</text><text x="1341" y="938" fill="#7a7a7a">Oct</text><text x="487" y="938" fill="#7a7a7a">Nov</text><text x="1450" y="938" fill="#7a7a7a">Nov</text><text x="581" y="938" fill="#7a7a7a">Dec</text><text x="1544" y="938" fill="#7a7a7a">Dec</text><text x="680" y="938" fill="#7a7a7a">20</text><text x="1643" y="938" fill="#7a7a7a">20</text><text x="779" y="938" fill="#7a7a7a">Feb</text><text x="1742" y="938" fill="#7a7a7a">Feb</text><rect x="850" y="333" width="58.5" height="17" rx="3.5" ry="3.5" fill="#0b32a0"/><text x="853.2" y="346.3" fill="#fff">3045.61</text><rect x="850" y="463.6" width="58.5" height="17.2" rx="3.5" ry="3.5" fill="#333"/><text x="853.2" y="476.90000000000003" fill="#fff">2937.23</text><rect x="850" y="759" width="58.5" height="17" rx="3.5" ry="3.5" fill="#333"/><text x="853.2" y="772.3" fill="#fff">21.5701</text><rect x="850" y="835.3" width="47" height="17" rx="3.5" ry="3.5" fill="#7d0707"/><text x="853.2" y="848.5999999999999" fill="#fff">-3.278</text><rect x="1813" y="239" width="59" height="17" rx="3.5" ry="3.5" fill="#333"/><text x="1816.2" y="252.3" fill="#fff">8621.83</text><rect x="1813" y="348" width="59" height="17" rx="3.5" ry="3.5" fill="#0b32a0"/><text x="1816.2" y="361.3" fill="#fff">8313.57</text><rect x="1813" y="453" width="59" height="17" rx="3.5" ry="3.5" fill="#333"/><text x="1816.2" y="466.3" fill="#fff">8014.79</text><rect x="1813" y="731" width="59" height="17" rx="3.5" ry="3.5" fill="#333"/><text x="1816.2" y="744.3" fill="#fff">77.5036</text><rect x="1813" y="824" width="56" height="17" rx="3.5" ry="3.5" fill="#7d0707"/><text x="1816.2" y="837.3" fill="#fff">-11.841</text></svg>
<div style="position:absolute;left:4px;top:128px;width:844px;height:24.5px;background:#f7f7f7;border-top:1px solid #c8c8c8;border-bottom:1px solid #c8c8c8;"></div>
<div style="position:absolute;left:4px;top:128px;width:1px;height:24px;background:#c8c8c8;"></div>
<div style="position:absolute;left:8.5px;top:132.5px;font-size:14.4px;line-height:16.56px;color:#111;font-weight:bold;white-space:pre;">SPX 6 M 1D</div>
<div style="position:absolute;left:95px;top:128px;width:1px;height:24px;background:#c8c8c8;"></div>
<div style="position:absolute;left:99.5px;top:132.5px;font-size:14.4px;line-height:16.56px;color:#444;font-weight:normal;white-space:pre;">D: 12/9/19</div>
<div style="position:absolute;left:171px;top:128px;width:1px;height:24px;background:#c8c8c8;"></div>
<div style="position:absolute;left:175.5px;top:132.5px;font-size:14.4px;line-height:16.56px;color:#444;font-weight:normal;white-space:pre;">O: 3141.86</div>
<div style="position:absolute;left:252px;top:128px;width:1px;height:24px;background:#c8c8c8;"></div>
<div style="position:absolute;left:256.5px;top:132.5px;font-size:14.4px;line-height:16.56px;color:#444;font-weight:normal;white-space:pre;">H: 3148.87</div>
<div style="position:absolute;left:332.5px;top:128px;width:1px;height:24px;background:#c8c8c8;"></div>
<div style="position:absolute;left:337.0px;top:132.5px;font-size:14.4px;line-height:16.56px;color:#444;font-weight:normal;white-space:pre;">L: 3135.46</div>
<div style="position:absolute;left:409.5px;top:128px;width:1px;height:24px;background:#c8c8c8;"></div>
<div style="position:absolute;left:414.0px;top:132.5px;font-size:14.4px;line-height:16.56px;color:#444;font-weight:normal;white-space:pre;">C: 3135.96</div>
<div style="position:absolute;left:489.5px;top:128px;width:1px;height:24px;background:#c8c8c8;"></div>
<div style="position:absolute;left:494.0px;top:132.5px;font-size:14.4px;line-height:16.56px;color:#444;font-weight:normal;white-space:pre;">R: 13.41</div>
<div style="position:absolute;left:553.5px;top:128px;width:1px;height:24px;background:#c8c8c8;"></div>
<div style="position:absolute;left:558.0px;top:132.5px;font-size:14.4px;line-height:16.56px;color:#1c49a6;font-weight:normal;white-space:pre;letter-spacing:0.21px;">SimpleMovingAvg (CLOSE, 50, 0, no)</div>
<div style="position:absolute;left:967px;top:33px;width:844px;height:24.5px;background:#f7f7f7;border-top:1px solid #c8c8c8;border-bottom:1px solid #c8c8c8;"></div>
<div style="position:absolute;left:967px;top:33px;width:1px;height:24px;background:#c8c8c8;"></div>
<div style="position:absolute;left:971.5px;top:37.5px;font-size:14.4px;line-height:16.56px;color:#444;font-weight:normal;white-space:pre;"></div>
<div style="position:absolute;left:1217.6px;top:33px;width:1px;height:24px;background:#c8c8c8;"></div>
<div style="position:absolute;left:1222.1px;top:37.5px;font-size:14.4px;line-height:16.56px;color:#444;font-weight:normal;white-space:pre;">6</div>
<div style="position:absolute;left:1231.3px;top:33px;width:1px;height:24px;background:#c8c8c8;"></div>
<div style="position:absolute;left:1235.8px;top:37.5px;font-size:14.4px;line-height:16.56px;color:#444;font-weight:normal;white-space:pre;">H: 8678.85</div>
<div style="position:absolute;left:1311.5px;top:33px;width:1px;height:24px;background:#c8c8c8;"></div>
<div style="position:absolute;left:1316.0px;top:37.5px;font-size:14.4px;line-height:16.56px;color:#444;font-weight:normal;white-space:pre;">L: 8619.77</div>
<div style="position:absolute;left:1388.3px;top:33px;width:1px;height:24px;background:#c8c8c8;"></div>
<div style="position:absolute;left:1392.8px;top:37.5px;font-size:14.4px;line-height:16.56px;color:#444;font-weight:normal;white-space:pre;">C: 8621.83</div>
<div style="position:absolute;left:1468.3px;top:33px;width:1px;height:24px;background:#c8c8c8;"></div>
<div style="position:absolute;left:1472.8px;top:37.5px;font-size:14.4px;line-height:16.56px;color:#444;font-weight:normal;white-space:pre;">R: 59.08</div>
<div style="position:absolute;left:1532px;top:33px;width:1px;height:24px;background:#c8c8c8;"></div>
<div style="position:absolute;left:1536.5px;top:37.5px;font-size:14.4px;line-height:16.56px;color:#1c49a6;font-weight:normal;white-space:pre;letter-spacing:0.21px;">SimpleMovingAvg (CLOSE, 50, 0, no)</div>
<div style="position:absolute;left:1789.3px;top:33px;width:1px;height:24px;background:#c8c8c8;"></div>
<div style="position:absolute;left:1790.8px;top:37.5px;font-size:14.4px;line-height:16.56px;color:#222;font-weight:normal;white-space:pre;letter-spacing:0.21px;"><b>...</b></div>
<div style="position:absolute;left:4px;top:697px;width:844px;height:24.5px;background:#f7f7f7;border-top:1px solid #c8c8c8;border-bottom:1px solid #c8c8c8;"></div>
<div style="position:absolute;left:4px;top:697px;width:1px;height:24px;background:#c8c8c8;"></div>
<div style="position:absolute;left:8.5px;top:701.5px;font-size:14.4px;line-height:16.56px;color:#444;font-weight:normal;white-space:pre;letter-spacing:0.21px;">MACD (12, 26, 9, EXPONENTIAL, no)</div>
<div style="position:absolute;left:265px;top:697px;width:1px;height:24px;background:#c8c8c8;"></div>
<div style="position:absolute;left:269.5px;top:701.5px;font-size:14.4px;line-height:16.56px;color:#444;font-weight:normal;white-space:pre;">21.5701</div>
<div style="position:absolute;left:326px;top:697px;width:1px;height:24px;background:#c8c8c8;"></div>
<div style="position:absolute;left:330.5px;top:701.5px;font-size:14.4px;line-height:16.56px;color:#b03a3a;font-weight:normal;white-space:pre;">24.8481</div>
<div style="position:absolute;left:387.5px;top:697px;width:1px;height:24px;background:#c8c8c8;"></div>
<div style="position:absolute;left:392.0px;top:701.5px;font-size:14.4px;line-height:16.56px;color:#8b1010;font-weight:normal;white-space:pre;">-3.27803</div>
<div style="position:absolute;left:453px;top:697px;width:1px;height:24px;background:#c8c8c8;"></div>
<div style="position:absolute;left:457.5px;top:701.5px;font-size:14.4px;line-height:16.56px;color:#6a1b9a;font-weight:normal;white-space:pre;">0</div>
<div style="position:absolute;left:470px;top:697px;width:1px;height:24px;background:#c8c8c8;"></div>
<div style="position:absolute;left:474.5px;top:701.5px;font-size:14.4px;line-height:16.56px;color:#444;font-weight:normal;white-space:pre;"></div>
<div style="position:absolute;left:967px;top:670.3px;width:844px;height:24.5px;background:#f7f7f7;border-top:1px solid #c8c8c8;border-bottom:1px solid #c8c8c8;"></div>
<div style="position:absolute;left:967px;top:670.3px;width:1px;height:24px;background:#c8c8c8;"></div>
<div style="position:absolute;left:971.5px;top:674.8px;font-size:14.4px;line-height:16.56px;color:#444;font-weight:normal;white-space:pre;letter-spacing:0.21px;">MACD (12, 26, 9, EXPONENTIAL, no)</div>
<div style="position:absolute;left:1228px;top:670.3px;width:1px;height:24px;background:#c8c8c8;"></div>
<div style="position:absolute;left:1232.5px;top:674.8px;font-size:14.4px;line-height:16.56px;color:#444;font-weight:normal;white-space:pre;">77.5036</div>
<div style="position:absolute;left:1289.5px;top:670.3px;width:1px;height:24px;background:#c8c8c8;"></div>
<div style="position:absolute;left:1294.0px;top:674.8px;font-size:14.4px;line-height:16.56px;color:#b03a3a;font-weight:normal;white-space:pre;">89.3444</div>
<div style="position:absolute;left:1350.5px;top:670.3px;width:1px;height:24px;background:#c8c8c8;"></div>
<div style="position:absolute;left:1355.0px;top:674.8px;font-size:14.4px;line-height:16.56px;color:#8b1010;font-weight:normal;white-space:pre;">-11.8408</div>
<div style="position:absolute;left:1416.5px;top:670.3px;width:1px;height:24px;background:#c8c8c8;"></div>
<div style="position:absolute;left:1421.0px;top:674.8px;font-size:14.4px;line-height:16.56px;color:#6a1b9a;font-weight:normal;white-space:pre;">0</div>
<div style="position:absolute;left:1433.5px;top:670.3px;width:1px;height:24px;background:#c8c8c8;"></div>
<div style="position:absolute;left:1438.0px;top:674.8px;font-size:14.4px;line-height:16.56px;color:#444;font-weight:normal;white-space:pre;"></div>
<div style="position:absolute;left:4px;top:693px;width:842px;height:2px;background:#dcdcdc;"></div>
<div style="position:absolute;left:967px;top:666px;width:842px;height:2px;background:#dcdcdc;"></div>
<svg style="position:absolute;left:0;top:0" width="1920" height="972" viewBox="0 0 1920 972"><ellipse cx="597.5" cy="758.75" rx="36.2" ry="48" fill="none" stroke="#e81c24" stroke-width="3.6"/><ellipse cx="1564.6" cy="716.7" rx="32" ry="47.2" fill="none" stroke="#e81c24" stroke-width="3.8"/></svg>
<div style="position:absolute;left:17px;top:88.4px;font-size:14.4px;line-height:16.56px;color:#333;font-weight:normal;white-space:pre;">Qty:</div>
<div style="position:absolute;left:52px;top:78px;width:98px;height:37px;border:2px solid #b4b4b4;border-radius:4px;background:#fafafa;"></div>
<div style="position:absolute;left:60px;top:88.2px;font-size:14.4px;line-height:16.56px;color:#333;font-weight:normal;white-space:pre;width:53px;text-align:right;">+10</div>
<div style="position:absolute;left:123px;top:82px;width:23px;height:13px;background:#b8b8b8;border-radius:2px;"></div>
<div style="position:absolute;left:123px;top:97px;width:23px;height:14px;background:#b8b8b8;border-radius:2px;"></div>
<div style="position:absolute;left:130px;top:87.5px;width:9px;height:2.4px;background:#222;"></div>
<div style="position:absolute;left:133.3px;top:84px;width:2.4px;height:9px;background:#222;"></div>
<div style="position:absolute;left:130px;top:103px;width:9px;height:2.6px;background:#222;"></div>
<div style="position:absolute;left:173px;top:90px;width:15.5px;height:15px;border:2px solid #444;border-radius:3.5px;background:#e6e6e6;"></div>
<div style="position:absolute;left:197px;top:89.5px;font-size:14.4px;line-height:16.56px;color:#333;font-weight:normal;white-space:pre;">auto send</div>
<div style="position:absolute;left:281px;top:80px;width:119px;height:34px;background:#04926c;border-radius:3px;"></div>
<div style="position:absolute;left:281px;top:89px;font-size:14.4px;line-height:16.56px;color:#84d9ae;font-weight:bold;white-space:pre;width:119px;text-align:center;">Buy the Ask</div>
<div style="position:absolute;left:419px;top:80px;width:114px;height:34px;background:#c42121;border-radius:3px;"></div>
<div style="position:absolute;left:419px;top:89px;font-size:14.4px;line-height:16.56px;color:#eb9c9c;font-weight:bold;white-space:pre;width:114px;text-align:center;">Sell the Bid</div>
<svg style="position:absolute;left:11.5px;top:45.8px" width="12" height="10" viewBox="0 0 12 10"><path d="M1.5 2.2 L6 6.6 L10.5 2.2" fill="none" stroke="#222" stroke-width="2.2"/></svg>
<div style="position:absolute;left:160.4px;top:4px;width:1.3px;height:27px;background:#86c0e2;"></div>
<div style="position:absolute;left:243.8px;top:4px;width:1.3px;height:27px;background:#86c0e2;"></div>
<div style="position:absolute;left:300.6px;top:4px;width:1.3px;height:27px;background:#86c0e2;"></div>
<div style="position:absolute;left:377.6px;top:4px;width:1.3px;height:27px;background:#86c0e2;"></div>
<div style="position:absolute;left:427.4px;top:4px;width:1.3px;height:27px;background:#86c0e2;"></div>
<div style="position:absolute;left:477.4px;top:4px;width:1.3px;height:27px;background:#86c0e2;"></div>
<div style="position:absolute;left:526.5px;top:4px;width:1.3px;height:27px;background:#86c0e2;"></div>
<div style="position:absolute;left:576.4px;top:4px;width:1.3px;height:27px;background:#86c0e2;"></div>
<div style="position:absolute;left:634.4px;top:4px;width:1.3px;height:27px;background:#86c0e2;"></div>
<div style="position:absolute;left:722.6px;top:4px;width:1.3px;height:27px;background:#86c0e2;"></div>
<div style="position:absolute;left:771.7px;top:4px;width:1.3px;height:27px;background:#86c0e2;"></div>
<div style="position:absolute;left:820.5px;top:4px;width:1.3px;height:27px;background:#86c0e2;"></div>
<div style="position:absolute;left:905.4px;top:4px;width:1.3px;height:27px;background:#86c0e2;"></div>
<div style="position:absolute;left:7px;top:6px;width:130px;height:23px;background:#fcfcfc;border:1.6px solid #a8a8a8;border-radius:4px;"></div>
<div style="position:absolute;left:17px;top:9.4px;font-size:14.4px;line-height:16.56px;color:#333;font-weight:normal;white-space:pre;letter-spacing:-1.3px;">SPX</div>
<div style="position:absolute;left:110px;top:10px;width:23px;height:15px;background:#b3b3b3;border-radius:2.5px;"></div>
<div style="position:absolute;left:142px;top:8px;width:13.5px;height:17px;background:#004d26;border-radius:2px;"></div>
<div style="position:absolute;left:142px;top:8.2px;font-size:14.4px;line-height:16.56px;color:#a9d2fb;font-weight:bold;white-space:pre;width:13.5px;text-align:center;">4</div>
<div style="position:absolute;left:170.3px;top:7.6px;font-size:17.6px;line-height:20.24px;color:#444;font-weight:bold;white-space:pre;">3135.96</div>
<div style="position:absolute;left:252.5px;top:5.7px;font-size:12px;line-height:13.8px;color:#555;font-weight:normal;white-space:pre;">-9.95</div>
<div style="position:absolute;left:252.5px;top:17.9px;font-size:12px;line-height:13.8px;color:#555;font-weight:normal;white-space:pre;">-0.32%</div>
<div style="position:absolute;left:310px;top:5.7px;font-size:12px;line-height:13.8px;color:#555;font-weight:normal;white-space:pre;">B: 3088.38</div>
<div style="position:absolute;left:310px;top:17.9px;font-size:12px;line-height:13.8px;color:#555;font-weight:normal;white-space:pre;">A: 3177.26</div>
<div style="position:absolute;left:601.3px;top:10.6px;font-size:12.6px;line-height:14.49px;color:#222;font-weight:bold;white-space:pre;">D</div>
<div style="position:absolute;left:676.4px;top:9.9px;font-size:14.4px;line-height:16.56px;color:#333;font-weight:normal;white-space:pre;">Style</div>
<div style="position:absolute;left:1123.3px;top:4px;width:1.3px;height:27px;background:#a2a2a2;"></div>
<div style="position:absolute;left:1226.8px;top:4px;width:1.3px;height:27px;background:#a2a2a2;"></div>
<div style="position:absolute;left:1293.6px;top:4px;width:1.3px;height:27px;background:#a2a2a2;"></div>
<div style="position:absolute;left:1345.6px;top:4px;width:1.3px;height:27px;background:#a2a2a2;"></div>
<div style="position:absolute;left:1395.6px;top:4px;width:1.3px;height:27px;background:#a2a2a2;"></div>
<div style="position:absolute;left:1445.4px;top:4px;width:1.3px;height:27px;background:#a2a2a2;"></div>
<div style="position:absolute;left:1494px;top:4px;width:1.3px;height:27px;background:#a2a2a2;"></div>
<div style="position:absolute;left:1544.4px;top:4px;width:1.3px;height:27px;background:#a2a2a2;"></div>
<div style="position:absolute;left:1602.4px;top:4px;width:1.3px;height:27px;background:#a2a2a2;"></div>
<div style="position:absolute;left:1690.6px;top:4px;width:1.3px;height:27px;background:#a2a2a2;"></div>
<div style="position:absolute;left:1739px;top:4px;width:1.3px;height:27px;background:#a2a2a2;"></div>
<div style="position:absolute;left:1788.5px;top:4px;width:1.3px;height:27px;background:#a2a2a2;"></div>
<div style="position:absolute;left:1868.3px;top:4px;width:1.3px;height:27px;background:#a2a2a2;"></div>
<div style="position:absolute;left:970.5px;top:6px;width:127px;height:23px;background:#fcfcfc;border:1.6px solid #d0d0d0;border-radius:4px;"></div>
<div style="position:absolute;left:980px;top:9.4px;font-size:14.4px;line-height:16.56px;color:#333;font-weight:normal;white-space:pre;letter-spacing:-1.3px;">COMP</div>
<div style="position:absolute;left:1074px;top:10px;width:22.5px;height:15px;background:#b3b3b3;border-radius:2.5px;"></div>
<div style="position:absolute;left:1133.3px;top:7.6px;font-size:17.6px;line-height:20.24px;color:#444;font-weight:bold;white-space:pre;">8621.8274</div>
<div style="position:absolute;left:1236px;top:5.7px;font-size:12px;line-height:13.8px;color:#666;font-weight:normal;white-space:pre;">-34.7014</div>
<div style="position:absolute;left:1236px;top:17.9px;font-size:12px;line-height:13.8px;color:#666;font-weight:normal;white-space:pre;">-0.40%</div>
<div style="position:absolute;left:1303px;top:5.7px;font-size:12px;line-height:13.8px;color:#666;font-weight:normal;white-space:pre;">B: N/A</div>
<div style="position:absolute;left:1303px;top:17.9px;font-size:12px;line-height:13.8px;color:#666;font-weight:normal;white-space:pre;">A: N/A</div>
<div style="position:absolute;left:1569.3px;top:10.6px;font-size:12.6px;line-height:14.49px;color:#222;font-weight:bold;white-space:pre;">D</div>
<div style="position:absolute;left:1644.4px;top:9.9px;font-size:14.4px;line-height:16.56px;color:#333;font-weight:normal;white-space:pre;">Style</div>
<svg style="position:absolute;left:0;top:0" width="1920" height="36" viewBox="0 0 1920 36"><path d="M115.8 14.6H125.6L120.7 19Z" fill="#222"/><path d="M1079.6 14.6H1089.4L1084.5 19Z" fill="#222"/><path d="M157 27.6h-5l5 -5z" fill="#222"/><g transform="translate(391.5,10.8)"><path d="M5.6 0.8H0.8V12.8H17.7V9.2" fill="none" stroke="#222" stroke-width="1.6"/><path d="M2.4 9.8C4 4 8.5 1.8 12.5 1.8V-2.4L20.3 3.5L12.5 9.3V5.8C8.5 5.8 5.2 6.8 2.4 9.8Z" fill="#222"/></g><g transform="translate(443.8,10.2)"><path d="M8.8 0.8H0.8V14H17.2V9.6" fill="none" stroke="#222" stroke-width="1.6"/><path d="M0.8 3.6H8.8" fill="none" stroke="#222" stroke-width="1.4"/><circle cx="14.6" cy="4" r="5.3" fill="#222"/><path d="M13.3 2.9h2v4.1h0.9v1h-3.4v-1h0.9v-3.1h-0.4z M13.7 0.6h1.6v1.5h-1.6z" fill="#fff"/></g><g transform="translate(493.6,6.2)" fill="#222" stroke="none"><rect x="4.8" y="0" width="7.6" height="1.6" rx="0.8"/><path d="M6 1.2V7.6L0.6 17.6Q-0.6 20.6 2.6 20.6H14.8Q18 20.6 16.8 17.6L11.4 7.6V1.2H10V8L12.9 13.6H4.5L7.4 8V1.2Z"/></g><g transform="translate(550.8,16.9)" stroke="#222" fill="none"><circle r="4.3" stroke-width="2.7"/><path d="M5.20 0.00L9.00 0.00M3.68 3.68L6.36 6.36M0.00 5.20L0.00 9.00M-3.68 3.68L-6.36 6.36M-5.20 0.00L-9.00 0.00M-3.68 -3.68L-6.36 -6.36M-0.00 -5.20L-0.00 -9.00M3.68 -3.68L6.36 -6.36" stroke-width="2"/></g><path d="M631.2 27.6h-5l5 -5z" fill="#222"/><g transform="translate(652.1,7.7)" shape-rendering="crispEdges"><rect x="0" y="7.6" width="6" height="6.6" fill="#222"/><rect x="2.6" y="4.6" width="1.2" height="13.6" fill="#222"/><rect x="9.3" y="4.6" width="4.4" height="9" fill="none" stroke="#222" stroke-width="1.3"/><rect x="10.9" y="0" width="1.3" height="4.6" fill="#222"/><rect x="10.9" y="13.6" width="1.3" height="3.2" fill="#222"/></g><path d="M719.2 27.6h-5l5 -5z" fill="#222"/><path transform="translate(740.1,6.6) scale(1.0)" d="M0 0V16.2L4.2 12.6L7.4 18.2L10.6 16.6L7.6 11L13.8 9.8Z" fill="#222"/><path d="M768.2 27.6h-5l5 -5z" fill="#222"/><g transform="translate(787.6,6.2)" fill="#222" stroke="none"><rect x="4.8" y="0" width="7.6" height="1.6" rx="0.8"/><path d="M6 1.2V7.6L0.6 17.6Q-0.6 20.6 2.6 20.6H14.8Q18 20.6 16.8 17.6L11.4 7.6V1.2H10V8L12.9 13.6H4.5L7.4 8V1.2Z"/></g><path d="M817 27.6h-5l5 -5z" fill="#222"/><g transform="translate(836.4,7)" fill="none" stroke="#222"><path d="M0 1H17.6" stroke-width="1.9"/><path d="M1.4 3.8V13.4L8.8 5V10.6L16.8 4V8.6" stroke-width="1.5"/><path d="M0.4 19.2L17.4 11.8" stroke-width="1.9"/></g><path d="M866 27.6h-5l5 -5z" fill="#222"/><g transform="translate(924.2,11)" fill="#222" shape-rendering="crispEdges"><rect x="0" y="0" width="2" height="2"/><rect x="3.8" y="0" width="9.4" height="2"/><rect x="0" y="5" width="2" height="2"/><rect x="3.8" y="5" width="9.4" height="2"/><rect x="0" y="10" width="2" height="2"/><rect x="3.8" y="10" width="9.4" height="2"/></g><path d="M952 28h-5l5 -5z" fill="#222"/><g transform="translate(1108.6,9.3)" fill="none" stroke="#333" stroke-width="1.3"><path d="M0.7 5.4V2Q0.7 0.7 2 0.7H4.4Q5.7 0.7 5.7 2V5.4"/><path d="M0.7 9.2V12.8Q0.7 14.1 2 14.1H4.4Q5.7 14.1 5.7 12.8V9.2"/><path d="M3.2 3.6V11.2" stroke="#777" stroke-width="1.8"/></g><path d="M1119.8 27.6h-5l5 -5z" fill="#222"/><g transform="translate(1359.7,10.8)"><path d="M5.6 0.8H0.8V12.8H17.7V9.2" fill="none" stroke="#222" stroke-width="1.6"/><path d="M2.4 9.8C4 4 8.5 1.8 12.5 1.8V-2.4L20.3 3.5L12.5 9.3V5.8C8.5 5.8 5.2 6.8 2.4 9.8Z" fill="#222"/></g><g transform="translate(1411.8,10.2)"><path d="M8.8 0.8H0.8V14H17.2V9.6" fill="none" stroke="#222" stroke-width="1.6"/><path d="M0.8 3.6H8.8" fill="none" stroke="#222" stroke-width="1.4"/><circle cx="14.6" cy="4" r="5.3" fill="#222"/><path d="M13.3 2.9h2v4.1h0.9v1h-3.4v-1h0.9v-3.1h-0.4z M13.7 0.6h1.6v1.5h-1.6z" fill="#fff"/></g><g transform="translate(1461.6,6.2)" fill="#222" stroke="none"><rect x="4.8" y="0" width="7.6" height="1.6" rx="0.8"/><path d="M6 1.2V7.6L0.6 17.6Q-0.6 20.6 2.6 20.6H14.8Q18 20.6 16.8 17.6L11.4 7.6V1.2H10V8L12.9 13.6H4.5L7.4 8V1.2Z"/></g><g transform="translate(1518.8,16.9)" stroke="#222" fill="none"><circle r="4.3" stroke-width="2.7"/><path d="M5.20 0.00L9.00 0.00M3.68 3.68L6.36 6.36M0.00 5.20L0.00 9.00M-3.68 3.68L-6.36 6.36M-5.20 0.00L-9.00 0.00M-3.68 -3.68L-6.36 -6.36M-0.00 -5.20L-0.00 -9.00M3.68 -3.68L6.36 -6.36" stroke-width="2"/></g><path d="M1599.2 27.6h-5l5 -5z" fill="#222"/><g transform="translate(1620.1,7.7)" shape-rendering="crispEdges"><rect x="0" y="7.6" width="6" height="6.6" fill="#222"/><rect x="2.6" y="4.6" width="1.2" height="13.6" fill="#222"/><rect x="9.3" y="4.6" width="4.4" height="9" fill="none" stroke="#222" stroke-width="1.3"/><rect x="10.9" y="0" width="1.3" height="4.6" fill="#222"/><rect x="10.9" y="13.6" width="1.3" height="3.2" fill="#222"/></g><path d="M1687.2 27.6h-5l5 -5z" fill="#222"/><g transform="translate(1705,7)"><path d="M5 11.5V2Q5 0.2 6.95 0.2Q8.9 0.2 8.9 2V8.4V7.6Q8.9 6.25 10.5 6.25Q12.1 6.25 12.1 7.8V9.2V8.2Q12.1 7 13.45 7Q14.8 7 14.8 8.4V10.2V9.8Q14.8 8.75 15.8 8.75Q16.8 8.75 16.8 10V14.5Q16.8 17.6 13.9 19.6H4.6Q3.6 18.2 2.9 16.7L1.2 12Q0.6 10 1.8 8.9Q3 8 3.9 9.6L5 11.8" fill="none" stroke="#222" stroke-width="1.5" stroke-linejoin="round" stroke-linecap="round"/></g><path d="M1735.5 27.6h-5l5 -5z" fill="#222"/><g transform="translate(1755.4,6.2)" fill="#222" stroke="none"><rect x="4.8" y="0" width="7.6" height="1.6" rx="0.8"/><path d="M6 1.2V7.6L0.6 17.6Q-0.6 20.6 2.6 20.6H14.8Q18 20.6 16.8 17.6L11.4 7.6V1.2H10V8L12.9 13.6H4.5L7.4 8V1.2Z"/></g><path d="M1785 27.6h-5l5 -5z" fill="#222"/><g transform="translate(1804.3,7)" fill="none" stroke="#222"><path d="M0 1H17.6" stroke-width="1.9"/><path d="M1.4 3.8V13.4L8.8 5V10.6L16.8 4V8.6" stroke-width="1.5"/><path d="M0.4 19.2L17.4 11.8" stroke-width="1.9"/></g><path d="M1834 27.6h-5l5 -5z" fill="#222"/><g transform="translate(1887,11)" fill="#222" shape-rendering="crispEdges"><rect x="0" y="0" width="2" height="2"/><rect x="3.8" y="0" width="9.4" height="2"/><rect x="0" y="5" width="2" height="2"/><rect x="3.8" y="5" width="9.4" height="2"/><rect x="0" y="10" width="2" height="2"/><rect x="3.8" y="10" width="9.4" height="2"/></g><path d="M1915 28h-5l5 -5z" fill="#222"/></svg>
<svg style="position:absolute;left:0px;top:940px" width="957" height="32" viewBox="0 0 957 32"><path d="M8 16L12 12.4V19.6Z" fill="#555"/><path d="M598 16L602.2 12.4V19.6Z" fill="#7c7c7c"/><path d="M621.2 16L617 12.4V19.6Z" fill="#7c7c7c"/><path d="M630.8 14.6L637 9V20.2Z M650.8 14.6L644.6 9V20.2Z" fill="#222"/><path d="M639 11h1v7h-1zM641 11h1v7h-1zM643 11h1v7h-1z" fill="#333" shape-rendering="crispEdges"/><circle cx="667.5" cy="16.5" r="6.4" fill="none" stroke="#222" stroke-width="1.5"/><path d="M659.2 16.5H675.8M667.5 8.2V24.8" stroke="#222" stroke-width="1.3"/><circle cx="694.8" cy="13.3" r="7.6" fill="none" stroke="#222" stroke-width="1.9"/><path d="M700.4 19L706.4 24.8" stroke="#222" stroke-width="2.1" stroke-linecap="round"/><path d="M691.2 13.3H698.4M694.8 9.7V16.9" stroke="#222" stroke-width="1.5"/><circle cx="721.9" cy="13.3" r="7.6" fill="none" stroke="#a8a8a8" stroke-width="1.9"/><path d="M727.5 19L733.5 24.8" stroke="#a8a8a8" stroke-width="2.1" stroke-linecap="round"/><path d="M718.3 12.7H725.5" stroke="#a8a8a8" stroke-width="1.5"/><path transform="translate(744.1,5.7) scale(1.0)" d="M0 0V16.2L4.2 12.6L7.4 18.2L10.6 16.6L7.6 11L13.8 9.8Z" fill="#222"/><path d="M922 24.6h-4.2l4.2 -4.2z" fill="#222"/></svg>
<div style="position:absolute;left:780px;top:949.1px;font-size:14.4px;line-height:16.56px;color:#222;font-weight:normal;white-space:pre;letter-spacing:0.14px;">Drawing set: Default</div>
<svg style="position:absolute;left:963px;top:940px" width="957" height="32" viewBox="0 0 957 32"><path d="M8 16L12 12.4V19.6Z" fill="#555"/><path d="M598 16L602.2 12.4V19.6Z" fill="#7c7c7c"/><path d="M621.2 16L617 12.4V19.6Z" fill="#7c7c7c"/><path d="M630.8 14.6L637 9V20.2Z M650.8 14.6L644.6 9V20.2Z" fill="#222"/><path d="M639 11h1v7h-1zM641 11h1v7h-1zM643 11h1v7h-1z" fill="#333" shape-rendering="crispEdges"/><circle cx="667.5" cy="16.5" r="6.4" fill="none" stroke="#222" stroke-width="1.5"/><path d="M659.2 16.5H675.8M667.5 8.2V24.8" stroke="#222" stroke-width="1.3"/><circle cx="694.8" cy="13.3" r="7.6" fill="none" stroke="#222" stroke-width="1.9"/><path d="M700.4 19L706.4 24.8" stroke="#222" stroke-width="2.1" stroke-linecap="round"/><path d="M691.2 13.3H698.4M694.8 9.7V16.9" stroke="#222" stroke-width="1.5"/><circle cx="721.9" cy="13.3" r="7.6" fill="none" stroke="#a8a8a8" stroke-width="1.9"/><path d="M727.5 19L733.5 24.8" stroke="#a8a8a8" stroke-width="2.1" stroke-linecap="round"/><path d="M718.3 12.7H725.5" stroke="#a8a8a8" stroke-width="1.5"/><g transform="translate(741.3,6.05)"><path d="M5 11.5V2Q5 0.2 6.95 0.2Q8.9 0.2 8.9 2V8.4V7.6Q8.9 6.25 10.5 6.25Q12.1 6.25 12.1 7.8V9.2V8.2Q12.1 7 13.45 7Q14.8 7 14.8 8.4V10.2V9.8Q14.8 8.75 15.8 8.75Q16.8 8.75 16.8 10V14.5Q16.8 17.6 13.9 19.6H4.6Q3.6 18.2 2.9 16.7L1.2 12Q0.6 10 1.8 8.9Q3 8 3.9 9.6L5 11.8" fill="none" stroke="#222" stroke-width="1.5" stroke-linejoin="round" stroke-linecap="round"/></g><path d="M922 24.6h-4.2l4.2 -4.2z" fill="#222"/></svg>
<div style="position:absolute;left:1743px;top:949.1px;font-size:14.4px;line-height:16.56px;color:#222;font-weight:normal;white-space:pre;letter-spacing:0.14px;">Drawing set: Default</div>
<div style="position:absolute;left:925px;top:33px;width:30px;height:937px;background:#a4a4a4;"></div>
<div style="position:absolute;left:1888px;top:33px;width:30px;height:937px;background:#a4a4a4;"></div>
<div style="position:absolute;left:927px;top:33.75px;width:26.2px;height:65.5px;background:#b5b5b5;"></div>
<div style="position:absolute;left:933.1px;top:92.4px;height:16px;transform-origin:0 0;transform:rotate(-90deg);white-space:pre;font-size:14.4px;line-height:16px;color:#2e2e2e;letter-spacing:0.3px;">Trade</div>
<div style="position:absolute;left:927px;top:100.75px;width:26.2px;height:138.5px;background:#b5b5b5;"></div>
<div style="position:absolute;left:933.1px;top:232.4px;height:16px;transform-origin:0 0;transform:rotate(-90deg);white-space:pre;font-size:14.4px;line-height:16px;color:#2e2e2e;letter-spacing:0.3px;">Times And Sales</div>
<div style="position:absolute;left:927px;top:240.75px;width:26.2px;height:115.5px;background:#b5b5b5;"></div>
<div style="position:absolute;left:933.1px;top:349.4px;height:16px;transform-origin:0 0;transform:rotate(-90deg);white-space:pre;font-size:14.4px;line-height:16px;color:#2e2e2e;letter-spacing:0.3px;">Active Trader</div>
<div style="position:absolute;left:927px;top:357.75px;width:26.2px;height:101.0px;background:#b5b5b5;"></div>
<div style="position:absolute;left:933.1px;top:451.9px;height:16px;transform-origin:0 0;transform:rotate(-90deg);white-space:pre;font-size:14.4px;line-height:16px;color:#2e2e2e;letter-spacing:0.3px;">Big Buttons</div>
<div style="position:absolute;left:927px;top:460.25px;width:26.2px;height:61.5px;background:#f4f4f4;"></div>
<div style="position:absolute;left:933.1px;top:514.9px;height:16px;transform-origin:0 0;transform:rotate(-90deg);white-space:pre;font-size:14.4px;line-height:16px;color:#2e2e2e;letter-spacing:0.3px;">Chart</div>
<div style="position:absolute;left:927px;top:523.25px;width:26.2px;height:120.0px;background:#b5b5b5;"></div>
<div style="position:absolute;left:933.1px;top:636.4px;height:16px;transform-origin:0 0;transform:rotate(-90deg);white-space:pre;font-size:14.4px;line-height:16px;color:#2e2e2e;letter-spacing:0.3px;">Phase Scores</div>
<div style="position:absolute;left:927px;top:644.75px;width:26.2px;height:99.0px;background:#b5b5b5;"></div>
<div style="position:absolute;left:933.1px;top:736.9px;height:16px;transform-origin:0 0;transform:rotate(-90deg);white-space:pre;font-size:14.4px;line-height:16px;color:#2e2e2e;letter-spacing:0.3px;">Dashboard</div>
<div style="position:absolute;left:927px;top:745.25px;width:26.2px;height:73.5px;background:#b5b5b5;"></div>
<div style="position:absolute;left:933.1px;top:811.9px;height:16px;transform-origin:0 0;transform:rotate(-90deg);white-space:pre;font-size:14.4px;line-height:16px;color:#2e2e2e;letter-spacing:0.3px;">Level II</div>
<div style="position:absolute;left:927px;top:820.25px;width:26.2px;height:95.5px;background:#b5b5b5;"></div>
<div style="position:absolute;left:933.1px;top:908.9px;height:16px;transform-origin:0 0;transform:rotate(-90deg);white-space:pre;font-size:14.4px;line-height:16px;color:#2e2e2e;letter-spacing:0.3px;">Live News</div>
<div style="position:absolute;left:927px;top:917.25px;width:26.2px;height:51.5px;background:#b5b5b5;"></div>
<div style="position:absolute;left:1890px;top:33.75px;width:26.2px;height:65.5px;background:#b5b5b5;"></div>
<div style="position:absolute;left:1896.1px;top:92.4px;height:16px;transform-origin:0 0;transform:rotate(-90deg);white-space:pre;font-size:14.4px;line-height:16px;color:#2e2e2e;letter-spacing:0.3px;">Trade</div>
<div style="position:absolute;left:1890px;top:100.75px;width:26.2px;height:138.5px;background:#b5b5b5;"></div>
<div style="position:absolute;left:1896.1px;top:232.4px;height:16px;transform-origin:0 0;transform:rotate(-90deg);white-space:pre;font-size:14.4px;line-height:16px;color:#2e2e2e;letter-spacing:0.3px;">Times And Sales</div>
<div style="position:absolute;left:1890px;top:240.75px;width:26.2px;height:115.5px;background:#b5b5b5;"></div>
<div style="position:absolute;left:1896.1px;top:349.4px;height:16px;transform-origin:0 0;transform:rotate(-90deg);white-space:pre;font-size:14.4px;line-height:16px;color:#2e2e2e;letter-spacing:0.3px;">Active Trader</div>
<div style="position:absolute;left:1890px;top:357.75px;width:26.2px;height:101.0px;background:#b5b5b5;"></div>
<div style="position:absolute;left:1896.1px;top:451.9px;height:16px;transform-origin:0 0;transform:rotate(-90deg);white-space:pre;font-size:14.4px;line-height:16px;color:#2e2e2e;letter-spacing:0.3px;">Big Buttons</div>
<div style="position:absolute;left:1890px;top:460.25px;width:26.2px;height:61.5px;background:#f4f4f4;"></div>
<div style="position:absolute;left:1896.1px;top:514.9px;height:16px;transform-origin:0 0;transform:rotate(-90deg);white-space:pre;font-size:14.4px;line-height:16px;color:#2e2e2e;letter-spacing:0.3px;">Chart</div>
<div style="position:absolute;left:1890px;top:523.25px;width:26.2px;height:120.0px;background:#b5b5b5;"></div>
<div style="position:absolute;left:1896.1px;top:636.4px;height:16px;transform-origin:0 0;transform:rotate(-90deg);white-space:pre;font-size:14.4px;line-height:16px;color:#2e2e2e;letter-spacing:0.3px;">Phase Scores</div>
<div style="position:absolute;left:1890px;top:644.75px;width:26.2px;height:99.0px;background:#b5b5b5;"></div>
<div style="position:absolute;left:1896.1px;top:736.9px;height:16px;transform-origin:0 0;transform:rotate(-90deg);white-space:pre;font-size:14.4px;line-height:16px;color:#2e2e2e;letter-spacing:0.3px;">Dashboard</div>
<div style="position:absolute;left:1890px;top:745.25px;width:26.2px;height:73.5px;background:#b5b5b5;"></div>
<div style="position:absolute;left:1896.1px;top:811.9px;height:16px;transform-origin:0 0;transform:rotate(-90deg);white-space:pre;font-size:14.4px;line-height:16px;color:#2e2e2e;letter-spacing:0.3px;">Level II</div>
<div style="position:absolute;left:1890px;top:820.25px;width:26.2px;height:95.5px;background:#b5b5b5;"></div>
<div style="position:absolute;left:1896.1px;top:908.9px;height:16px;transform-origin:0 0;transform:rotate(-90deg);white-space:pre;font-size:14.4px;line-height:16px;color:#2e2e2e;letter-spacing:0.3px;">Live News</div>
<div style="position:absolute;left:1890px;top:917.25px;width:26.2px;height:51.5px;background:#b5b5b5;"></div>
<svg style="position:absolute;left:1812px;top:33px" width="30" height="26" viewBox="1812 33 30 26" fill="none" stroke="#222" stroke-width="1.4"><path d="M1816.7 49.6C1819 52.8 1822.4 53 1824.6 49.4C1827.4 44.6 1829 40.7 1832 40.7C1834 40.7 1835.3 41.8 1835.9 43.3"/><path d="M1817.2 36.4L1821.6 40.4" stroke-width="1.7"/><path d="M1829.6 49.9L1836.2 55.2" stroke-width="1.7"/><path d="M1823.9 42.5H1817.1L1823.9 37Z M1829.1 49.4H1836.3L1829.1 55.4Z" fill="#222" stroke="none"/></svg>
<div style="position:absolute;left:682.5px;top:33.5px;width:541.7px;height:207.2px;background:#fff;"></div>
<div style="position:absolute;left:682.5px;top:27.9px;width:535.6px;height:218.9px;background:#fff;border:5px solid #000;border-radius:16px;"></div>
<div id="tl0" style="position:absolute;left:689.5px;top:38.7px;font-family:'Liberation Serif',serif;font-weight:bold;font-size:22.8px;line-height:27px;color:#000;white-space:pre;letter-spacing:0.1px;"><span style="display:inline-block;transform-origin:0 50%;transform:scaleX(1.1176);">SPX and Nasdaq closed in <span style="color:#ff7f27">NOTREND</span>, with</span></div>
<div id="tl1" style="position:absolute;left:689.5px;top:65.7px;font-family:'Liberation Serif',serif;font-weight:bold;font-size:22.8px;line-height:27px;color:#000;white-space:pre;letter-spacing:0.1px;"><span style="display:inline-block;transform-origin:0 50%;transform:scaleX(1.0846);">bearish MACD.</span></div>
<div id="tl3" style="position:absolute;left:689.5px;top:119.7px;font-family:'Liberation Serif',serif;font-weight:bold;font-size:22.8px;line-height:27px;color:#000;white-space:pre;letter-spacing:0.1px;"><span style="display:inline-block;transform-origin:0 50%;transform:scaleX(1.0925);">We need to see some price strength confirmation</span></div>
<div id="tl4" style="position:absolute;left:689.5px;top:146.7px;font-family:'Liberation Serif',serif;font-weight:bold;font-size:22.8px;line-height:27px;color:#000;white-space:pre;letter-spacing:0.1px;"><span style="display:inline-block;transform-origin:0 50%;transform:scaleX(1.107);">soon, for Friday to have meaning.  This is the</span></div>
<div id="tl5" style="position:absolute;left:689.5px;top:173.7px;font-family:'Liberation Serif',serif;font-weight:bold;font-size:22.8px;line-height:27px;color:#000;white-space:pre;letter-spacing:0.1px;"><span style="display:inline-block;transform-origin:0 50%;transform:scaleX(1.1097);">week before OPEX and the Fed, so could be</span></div>
<div id="tl6" style="position:absolute;left:689.5px;top:200.7px;font-family:'Liberation Serif',serif;font-weight:bold;font-size:22.8px;line-height:27px;color:#000;white-space:pre;letter-spacing:0.1px;"><span style="display:inline-block;transform-origin:0 50%;transform:scaleX(1.0862);">swimming upstream.</span></div>
<div style="position:absolute;left:944px;top:206px;width:245.5px;height:104px;background:#fff;"></div>
<div style="position:absolute;left:949px;top:210px;width:236px;height:92px;border:3px solid #000;background:#fff;"></div>
<div style="position:absolute;left:955px;top:215px;width:223px;height:81px;border:1.4px solid #000;"></div>
<div style="position:absolute;left:963.5px;top:249.5px;width:198px;height:20px;overflow:visible;"><div id="fzt" style="font-family:'Liberation Serif',serif;font-weight:bold;font-size:16.4px;line-height:20px;color:#1a1a1a;white-space:pre;transform-origin:0 50%;transform:scaleX(1.66);display:inline-block;letter-spacing:0.2px;">Fitzstock Charts</div></div>
<div style="position:absolute;left:1004px;top:267px;width:118px;height:2px;background:#000;"></div>
<div style="position:absolute;left:995px;top:271.5px;font-weight:bold;font-size:14.9px;line-height:17px;color:#000;white-space:pre;">www.fitzstock.com</div>
<svg style="position:absolute;left:1050px;top:226px" width="44" height="24" viewBox="1050 226 44 24" fill="none" stroke-width="0.9"><path d="M1055.5 246.5V236l4-1v10z M1059.5 243.5V233.5l4-1v10z M1063.5 240.5V231l4-1v10z M1067.5 229V241" stroke="#5da341"/><path d="M1074.5 229.5V240.5l4 1.2V232z M1078.5 232V243l4 1.2V235.5z M1082.5 235V245l4 1.2V236.5z M1086.5 236.5V246.6" stroke="#c8353b"/></svg>
</body></html>
